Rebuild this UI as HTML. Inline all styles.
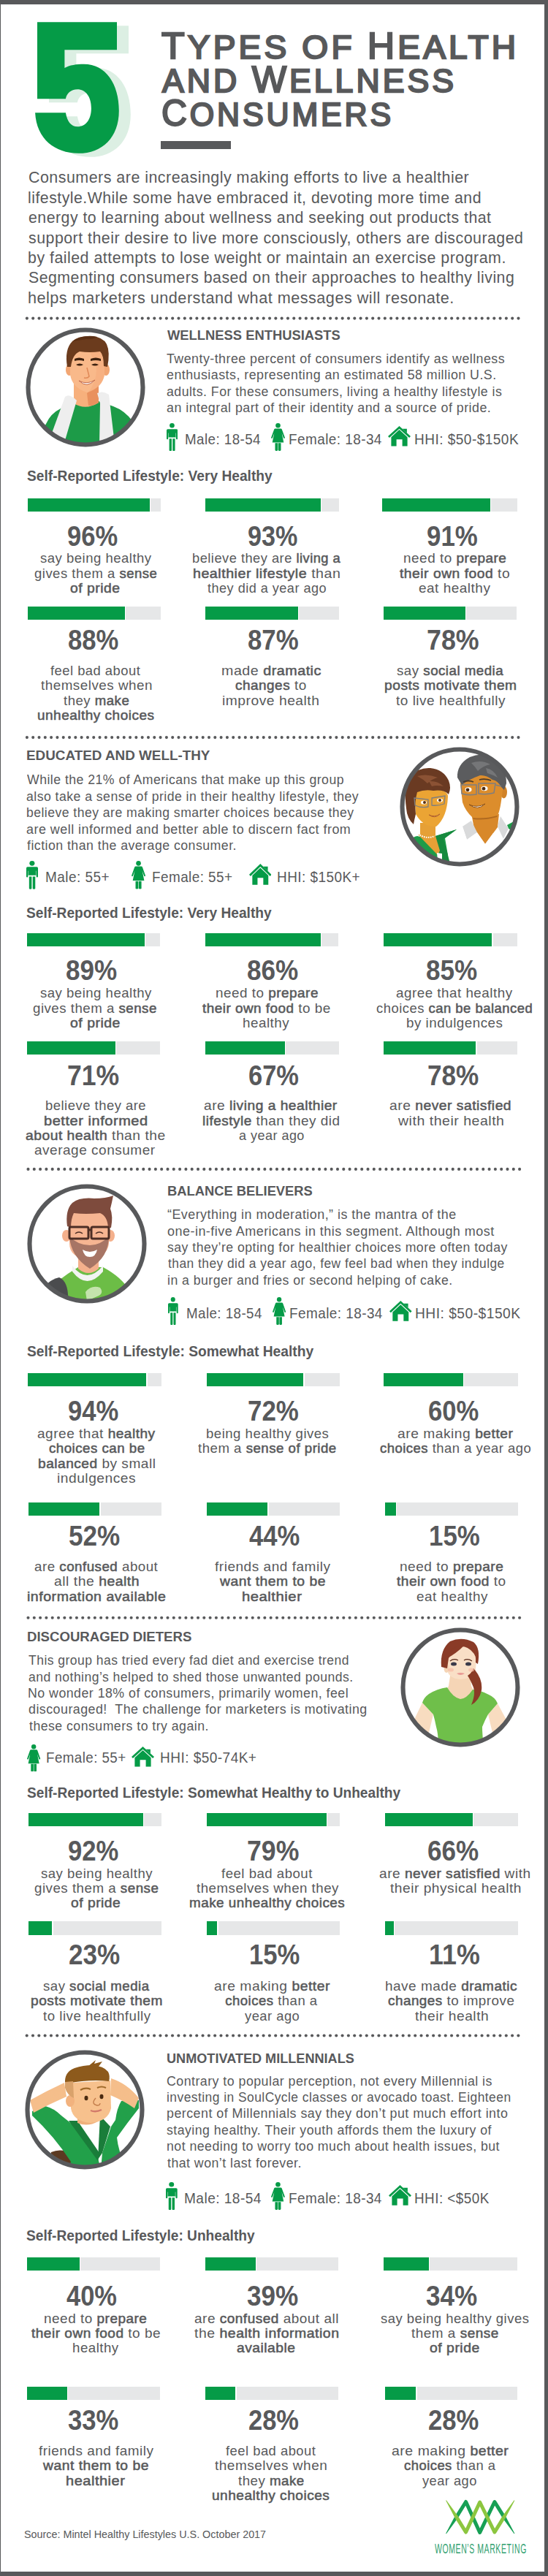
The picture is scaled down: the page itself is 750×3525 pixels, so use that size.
<!DOCTYPE html><html><head><meta charset="utf-8"><style>html,body{margin:0;padding:0;background:#fff}body{width:750px;height:3525px;position:relative;overflow:hidden;font-family:"Liberation Sans",sans-serif}b{font-weight:normal;-webkit-text-stroke:0.55px currentColor}</style></head><body>
<div style="position:absolute;left:0;top:0;width:750px;height:3525px;box-sizing:border-box;border-style:solid;border-color:#58595b;border-width:6px 5px 6px 1px"></div>
<svg style="position:absolute;left:0;top:0" width="220" height="230"><path d="M51 30.2 L160 30.2 L160 68.2 L88.4 68.2 L88.4 93 C95 89 105 87.7 114.7 87.7 C145 87.7 162.8 115 162.8 151.4 C162.8 188 140 209.8 107.4 209.8 C75 209.8 50 190 48.1 154.3 L89.9 154.3 C92 166 97 173.3 106 173.3 C118 173.3 124.9 163 124.9 148 C124.9 132 117 122.2 106 122.2 C97 122.2 91 128 89.9 135.3 L51 135.3 Z" fill="#dcefe3" transform="translate(16,5)"/><path d="M51 30.2 L160 30.2 L160 68.2 L88.4 68.2 L88.4 93 C95 89 105 87.7 114.7 87.7 C145 87.7 162.8 115 162.8 151.4 C162.8 188 140 209.8 107.4 209.8 C75 209.8 50 190 48.1 154.3 L89.9 154.3 C92 166 97 173.3 106 173.3 C118 173.3 124.9 163 124.9 148 C124.9 132 117 122.2 106 122.2 C97 122.2 91 128 89.9 135.3 L51 135.3 Z" fill="#059b47"/></svg>
<div style="position:absolute;left:220px;top:193px;width:96px;height:11px;background:#58595b"></div>
<svg style="position:absolute;left:0;top:0" width="750" height="3525" fill="#58595b"><circle cx="36.90" cy="435.60" r="2.05"/><circle cx="45.20" cy="435.60" r="2.05"/><circle cx="53.51" cy="435.60" r="2.05"/><circle cx="61.81" cy="435.60" r="2.05"/><circle cx="70.11" cy="435.60" r="2.05"/><circle cx="78.42" cy="435.60" r="2.05"/><circle cx="86.72" cy="435.60" r="2.05"/><circle cx="95.03" cy="435.60" r="2.05"/><circle cx="103.33" cy="435.60" r="2.05"/><circle cx="111.63" cy="435.60" r="2.05"/><circle cx="119.94" cy="435.60" r="2.05"/><circle cx="128.24" cy="435.60" r="2.05"/><circle cx="136.54" cy="435.60" r="2.05"/><circle cx="144.85" cy="435.60" r="2.05"/><circle cx="153.15" cy="435.60" r="2.05"/><circle cx="161.46" cy="435.60" r="2.05"/><circle cx="169.76" cy="435.60" r="2.05"/><circle cx="178.06" cy="435.60" r="2.05"/><circle cx="186.37" cy="435.60" r="2.05"/><circle cx="194.67" cy="435.60" r="2.05"/><circle cx="202.97" cy="435.60" r="2.05"/><circle cx="211.28" cy="435.60" r="2.05"/><circle cx="219.58" cy="435.60" r="2.05"/><circle cx="227.89" cy="435.60" r="2.05"/><circle cx="236.19" cy="435.60" r="2.05"/><circle cx="244.49" cy="435.60" r="2.05"/><circle cx="252.80" cy="435.60" r="2.05"/><circle cx="261.10" cy="435.60" r="2.05"/><circle cx="269.40" cy="435.60" r="2.05"/><circle cx="277.71" cy="435.60" r="2.05"/><circle cx="286.01" cy="435.60" r="2.05"/><circle cx="294.31" cy="435.60" r="2.05"/><circle cx="302.62" cy="435.60" r="2.05"/><circle cx="310.92" cy="435.60" r="2.05"/><circle cx="319.23" cy="435.60" r="2.05"/><circle cx="327.53" cy="435.60" r="2.05"/><circle cx="335.83" cy="435.60" r="2.05"/><circle cx="344.14" cy="435.60" r="2.05"/><circle cx="352.44" cy="435.60" r="2.05"/><circle cx="360.74" cy="435.60" r="2.05"/><circle cx="369.05" cy="435.60" r="2.05"/><circle cx="377.35" cy="435.60" r="2.05"/><circle cx="385.66" cy="435.60" r="2.05"/><circle cx="393.96" cy="435.60" r="2.05"/><circle cx="402.26" cy="435.60" r="2.05"/><circle cx="410.57" cy="435.60" r="2.05"/><circle cx="418.87" cy="435.60" r="2.05"/><circle cx="427.17" cy="435.60" r="2.05"/><circle cx="435.48" cy="435.60" r="2.05"/><circle cx="443.78" cy="435.60" r="2.05"/><circle cx="452.09" cy="435.60" r="2.05"/><circle cx="460.39" cy="435.60" r="2.05"/><circle cx="468.69" cy="435.60" r="2.05"/><circle cx="477.00" cy="435.60" r="2.05"/><circle cx="485.30" cy="435.60" r="2.05"/><circle cx="493.60" cy="435.60" r="2.05"/><circle cx="501.91" cy="435.60" r="2.05"/><circle cx="510.21" cy="435.60" r="2.05"/><circle cx="518.51" cy="435.60" r="2.05"/><circle cx="526.82" cy="435.60" r="2.05"/><circle cx="535.12" cy="435.60" r="2.05"/><circle cx="543.43" cy="435.60" r="2.05"/><circle cx="551.73" cy="435.60" r="2.05"/><circle cx="560.03" cy="435.60" r="2.05"/><circle cx="568.34" cy="435.60" r="2.05"/><circle cx="576.64" cy="435.60" r="2.05"/><circle cx="584.94" cy="435.60" r="2.05"/><circle cx="593.25" cy="435.60" r="2.05"/><circle cx="601.55" cy="435.60" r="2.05"/><circle cx="609.86" cy="435.60" r="2.05"/><circle cx="618.16" cy="435.60" r="2.05"/><circle cx="626.46" cy="435.60" r="2.05"/><circle cx="634.77" cy="435.60" r="2.05"/><circle cx="643.07" cy="435.60" r="2.05"/><circle cx="651.37" cy="435.60" r="2.05"/><circle cx="659.68" cy="435.60" r="2.05"/><circle cx="667.98" cy="435.60" r="2.05"/><circle cx="676.29" cy="435.60" r="2.05"/><circle cx="684.59" cy="435.60" r="2.05"/><circle cx="692.89" cy="435.60" r="2.05"/><circle cx="701.20" cy="435.60" r="2.05"/><circle cx="709.50" cy="435.60" r="2.05"/><circle cx="36.90" cy="1009.10" r="2.05"/><circle cx="45.20" cy="1009.10" r="2.05"/><circle cx="53.51" cy="1009.10" r="2.05"/><circle cx="61.81" cy="1009.10" r="2.05"/><circle cx="70.11" cy="1009.10" r="2.05"/><circle cx="78.42" cy="1009.10" r="2.05"/><circle cx="86.72" cy="1009.10" r="2.05"/><circle cx="95.03" cy="1009.10" r="2.05"/><circle cx="103.33" cy="1009.10" r="2.05"/><circle cx="111.63" cy="1009.10" r="2.05"/><circle cx="119.94" cy="1009.10" r="2.05"/><circle cx="128.24" cy="1009.10" r="2.05"/><circle cx="136.54" cy="1009.10" r="2.05"/><circle cx="144.85" cy="1009.10" r="2.05"/><circle cx="153.15" cy="1009.10" r="2.05"/><circle cx="161.46" cy="1009.10" r="2.05"/><circle cx="169.76" cy="1009.10" r="2.05"/><circle cx="178.06" cy="1009.10" r="2.05"/><circle cx="186.37" cy="1009.10" r="2.05"/><circle cx="194.67" cy="1009.10" r="2.05"/><circle cx="202.97" cy="1009.10" r="2.05"/><circle cx="211.28" cy="1009.10" r="2.05"/><circle cx="219.58" cy="1009.10" r="2.05"/><circle cx="227.89" cy="1009.10" r="2.05"/><circle cx="236.19" cy="1009.10" r="2.05"/><circle cx="244.49" cy="1009.10" r="2.05"/><circle cx="252.80" cy="1009.10" r="2.05"/><circle cx="261.10" cy="1009.10" r="2.05"/><circle cx="269.40" cy="1009.10" r="2.05"/><circle cx="277.71" cy="1009.10" r="2.05"/><circle cx="286.01" cy="1009.10" r="2.05"/><circle cx="294.31" cy="1009.10" r="2.05"/><circle cx="302.62" cy="1009.10" r="2.05"/><circle cx="310.92" cy="1009.10" r="2.05"/><circle cx="319.23" cy="1009.10" r="2.05"/><circle cx="327.53" cy="1009.10" r="2.05"/><circle cx="335.83" cy="1009.10" r="2.05"/><circle cx="344.14" cy="1009.10" r="2.05"/><circle cx="352.44" cy="1009.10" r="2.05"/><circle cx="360.74" cy="1009.10" r="2.05"/><circle cx="369.05" cy="1009.10" r="2.05"/><circle cx="377.35" cy="1009.10" r="2.05"/><circle cx="385.66" cy="1009.10" r="2.05"/><circle cx="393.96" cy="1009.10" r="2.05"/><circle cx="402.26" cy="1009.10" r="2.05"/><circle cx="410.57" cy="1009.10" r="2.05"/><circle cx="418.87" cy="1009.10" r="2.05"/><circle cx="427.17" cy="1009.10" r="2.05"/><circle cx="435.48" cy="1009.10" r="2.05"/><circle cx="443.78" cy="1009.10" r="2.05"/><circle cx="452.09" cy="1009.10" r="2.05"/><circle cx="460.39" cy="1009.10" r="2.05"/><circle cx="468.69" cy="1009.10" r="2.05"/><circle cx="477.00" cy="1009.10" r="2.05"/><circle cx="485.30" cy="1009.10" r="2.05"/><circle cx="493.60" cy="1009.10" r="2.05"/><circle cx="501.91" cy="1009.10" r="2.05"/><circle cx="510.21" cy="1009.10" r="2.05"/><circle cx="518.51" cy="1009.10" r="2.05"/><circle cx="526.82" cy="1009.10" r="2.05"/><circle cx="535.12" cy="1009.10" r="2.05"/><circle cx="543.43" cy="1009.10" r="2.05"/><circle cx="551.73" cy="1009.10" r="2.05"/><circle cx="560.03" cy="1009.10" r="2.05"/><circle cx="568.34" cy="1009.10" r="2.05"/><circle cx="576.64" cy="1009.10" r="2.05"/><circle cx="584.94" cy="1009.10" r="2.05"/><circle cx="593.25" cy="1009.10" r="2.05"/><circle cx="601.55" cy="1009.10" r="2.05"/><circle cx="609.86" cy="1009.10" r="2.05"/><circle cx="618.16" cy="1009.10" r="2.05"/><circle cx="626.46" cy="1009.10" r="2.05"/><circle cx="634.77" cy="1009.10" r="2.05"/><circle cx="643.07" cy="1009.10" r="2.05"/><circle cx="651.37" cy="1009.10" r="2.05"/><circle cx="659.68" cy="1009.10" r="2.05"/><circle cx="667.98" cy="1009.10" r="2.05"/><circle cx="676.29" cy="1009.10" r="2.05"/><circle cx="684.59" cy="1009.10" r="2.05"/><circle cx="692.89" cy="1009.10" r="2.05"/><circle cx="701.20" cy="1009.10" r="2.05"/><circle cx="709.50" cy="1009.10" r="2.05"/><circle cx="38.50" cy="1599.90" r="2.05"/><circle cx="46.80" cy="1599.90" r="2.05"/><circle cx="55.11" cy="1599.90" r="2.05"/><circle cx="63.41" cy="1599.90" r="2.05"/><circle cx="71.71" cy="1599.90" r="2.05"/><circle cx="80.02" cy="1599.90" r="2.05"/><circle cx="88.32" cy="1599.90" r="2.05"/><circle cx="96.63" cy="1599.90" r="2.05"/><circle cx="104.93" cy="1599.90" r="2.05"/><circle cx="113.23" cy="1599.90" r="2.05"/><circle cx="121.54" cy="1599.90" r="2.05"/><circle cx="129.84" cy="1599.90" r="2.05"/><circle cx="138.14" cy="1599.90" r="2.05"/><circle cx="146.45" cy="1599.90" r="2.05"/><circle cx="154.75" cy="1599.90" r="2.05"/><circle cx="163.06" cy="1599.90" r="2.05"/><circle cx="171.36" cy="1599.90" r="2.05"/><circle cx="179.66" cy="1599.90" r="2.05"/><circle cx="187.97" cy="1599.90" r="2.05"/><circle cx="196.27" cy="1599.90" r="2.05"/><circle cx="204.57" cy="1599.90" r="2.05"/><circle cx="212.88" cy="1599.90" r="2.05"/><circle cx="221.18" cy="1599.90" r="2.05"/><circle cx="229.49" cy="1599.90" r="2.05"/><circle cx="237.79" cy="1599.90" r="2.05"/><circle cx="246.09" cy="1599.90" r="2.05"/><circle cx="254.40" cy="1599.90" r="2.05"/><circle cx="262.70" cy="1599.90" r="2.05"/><circle cx="271.00" cy="1599.90" r="2.05"/><circle cx="279.31" cy="1599.90" r="2.05"/><circle cx="287.61" cy="1599.90" r="2.05"/><circle cx="295.91" cy="1599.90" r="2.05"/><circle cx="304.22" cy="1599.90" r="2.05"/><circle cx="312.52" cy="1599.90" r="2.05"/><circle cx="320.83" cy="1599.90" r="2.05"/><circle cx="329.13" cy="1599.90" r="2.05"/><circle cx="337.43" cy="1599.90" r="2.05"/><circle cx="345.74" cy="1599.90" r="2.05"/><circle cx="354.04" cy="1599.90" r="2.05"/><circle cx="362.34" cy="1599.90" r="2.05"/><circle cx="370.65" cy="1599.90" r="2.05"/><circle cx="378.95" cy="1599.90" r="2.05"/><circle cx="387.26" cy="1599.90" r="2.05"/><circle cx="395.56" cy="1599.90" r="2.05"/><circle cx="403.86" cy="1599.90" r="2.05"/><circle cx="412.17" cy="1599.90" r="2.05"/><circle cx="420.47" cy="1599.90" r="2.05"/><circle cx="428.77" cy="1599.90" r="2.05"/><circle cx="437.08" cy="1599.90" r="2.05"/><circle cx="445.38" cy="1599.90" r="2.05"/><circle cx="453.69" cy="1599.90" r="2.05"/><circle cx="461.99" cy="1599.90" r="2.05"/><circle cx="470.29" cy="1599.90" r="2.05"/><circle cx="478.60" cy="1599.90" r="2.05"/><circle cx="486.90" cy="1599.90" r="2.05"/><circle cx="495.20" cy="1599.90" r="2.05"/><circle cx="503.51" cy="1599.90" r="2.05"/><circle cx="511.81" cy="1599.90" r="2.05"/><circle cx="520.11" cy="1599.90" r="2.05"/><circle cx="528.42" cy="1599.90" r="2.05"/><circle cx="536.72" cy="1599.90" r="2.05"/><circle cx="545.03" cy="1599.90" r="2.05"/><circle cx="553.33" cy="1599.90" r="2.05"/><circle cx="561.63" cy="1599.90" r="2.05"/><circle cx="569.94" cy="1599.90" r="2.05"/><circle cx="578.24" cy="1599.90" r="2.05"/><circle cx="586.54" cy="1599.90" r="2.05"/><circle cx="594.85" cy="1599.90" r="2.05"/><circle cx="603.15" cy="1599.90" r="2.05"/><circle cx="611.46" cy="1599.90" r="2.05"/><circle cx="619.76" cy="1599.90" r="2.05"/><circle cx="628.06" cy="1599.90" r="2.05"/><circle cx="636.37" cy="1599.90" r="2.05"/><circle cx="644.67" cy="1599.90" r="2.05"/><circle cx="652.97" cy="1599.90" r="2.05"/><circle cx="661.28" cy="1599.90" r="2.05"/><circle cx="669.58" cy="1599.90" r="2.05"/><circle cx="677.89" cy="1599.90" r="2.05"/><circle cx="686.19" cy="1599.90" r="2.05"/><circle cx="694.49" cy="1599.90" r="2.05"/><circle cx="702.80" cy="1599.90" r="2.05"/><circle cx="711.10" cy="1599.90" r="2.05"/><circle cx="38.50" cy="2213.80" r="2.05"/><circle cx="46.80" cy="2213.80" r="2.05"/><circle cx="55.11" cy="2213.80" r="2.05"/><circle cx="63.41" cy="2213.80" r="2.05"/><circle cx="71.71" cy="2213.80" r="2.05"/><circle cx="80.02" cy="2213.80" r="2.05"/><circle cx="88.32" cy="2213.80" r="2.05"/><circle cx="96.63" cy="2213.80" r="2.05"/><circle cx="104.93" cy="2213.80" r="2.05"/><circle cx="113.23" cy="2213.80" r="2.05"/><circle cx="121.54" cy="2213.80" r="2.05"/><circle cx="129.84" cy="2213.80" r="2.05"/><circle cx="138.14" cy="2213.80" r="2.05"/><circle cx="146.45" cy="2213.80" r="2.05"/><circle cx="154.75" cy="2213.80" r="2.05"/><circle cx="163.06" cy="2213.80" r="2.05"/><circle cx="171.36" cy="2213.80" r="2.05"/><circle cx="179.66" cy="2213.80" r="2.05"/><circle cx="187.97" cy="2213.80" r="2.05"/><circle cx="196.27" cy="2213.80" r="2.05"/><circle cx="204.57" cy="2213.80" r="2.05"/><circle cx="212.88" cy="2213.80" r="2.05"/><circle cx="221.18" cy="2213.80" r="2.05"/><circle cx="229.49" cy="2213.80" r="2.05"/><circle cx="237.79" cy="2213.80" r="2.05"/><circle cx="246.09" cy="2213.80" r="2.05"/><circle cx="254.40" cy="2213.80" r="2.05"/><circle cx="262.70" cy="2213.80" r="2.05"/><circle cx="271.00" cy="2213.80" r="2.05"/><circle cx="279.31" cy="2213.80" r="2.05"/><circle cx="287.61" cy="2213.80" r="2.05"/><circle cx="295.91" cy="2213.80" r="2.05"/><circle cx="304.22" cy="2213.80" r="2.05"/><circle cx="312.52" cy="2213.80" r="2.05"/><circle cx="320.83" cy="2213.80" r="2.05"/><circle cx="329.13" cy="2213.80" r="2.05"/><circle cx="337.43" cy="2213.80" r="2.05"/><circle cx="345.74" cy="2213.80" r="2.05"/><circle cx="354.04" cy="2213.80" r="2.05"/><circle cx="362.34" cy="2213.80" r="2.05"/><circle cx="370.65" cy="2213.80" r="2.05"/><circle cx="378.95" cy="2213.80" r="2.05"/><circle cx="387.26" cy="2213.80" r="2.05"/><circle cx="395.56" cy="2213.80" r="2.05"/><circle cx="403.86" cy="2213.80" r="2.05"/><circle cx="412.17" cy="2213.80" r="2.05"/><circle cx="420.47" cy="2213.80" r="2.05"/><circle cx="428.77" cy="2213.80" r="2.05"/><circle cx="437.08" cy="2213.80" r="2.05"/><circle cx="445.38" cy="2213.80" r="2.05"/><circle cx="453.69" cy="2213.80" r="2.05"/><circle cx="461.99" cy="2213.80" r="2.05"/><circle cx="470.29" cy="2213.80" r="2.05"/><circle cx="478.60" cy="2213.80" r="2.05"/><circle cx="486.90" cy="2213.80" r="2.05"/><circle cx="495.20" cy="2213.80" r="2.05"/><circle cx="503.51" cy="2213.80" r="2.05"/><circle cx="511.81" cy="2213.80" r="2.05"/><circle cx="520.11" cy="2213.80" r="2.05"/><circle cx="528.42" cy="2213.80" r="2.05"/><circle cx="536.72" cy="2213.80" r="2.05"/><circle cx="545.03" cy="2213.80" r="2.05"/><circle cx="553.33" cy="2213.80" r="2.05"/><circle cx="561.63" cy="2213.80" r="2.05"/><circle cx="569.94" cy="2213.80" r="2.05"/><circle cx="578.24" cy="2213.80" r="2.05"/><circle cx="586.54" cy="2213.80" r="2.05"/><circle cx="594.85" cy="2213.80" r="2.05"/><circle cx="603.15" cy="2213.80" r="2.05"/><circle cx="611.46" cy="2213.80" r="2.05"/><circle cx="619.76" cy="2213.80" r="2.05"/><circle cx="628.06" cy="2213.80" r="2.05"/><circle cx="636.37" cy="2213.80" r="2.05"/><circle cx="644.67" cy="2213.80" r="2.05"/><circle cx="652.97" cy="2213.80" r="2.05"/><circle cx="661.28" cy="2213.80" r="2.05"/><circle cx="669.58" cy="2213.80" r="2.05"/><circle cx="677.89" cy="2213.80" r="2.05"/><circle cx="686.19" cy="2213.80" r="2.05"/><circle cx="694.49" cy="2213.80" r="2.05"/><circle cx="702.80" cy="2213.80" r="2.05"/><circle cx="711.10" cy="2213.80" r="2.05"/><circle cx="36.70" cy="2785.50" r="2.05"/><circle cx="45.00" cy="2785.50" r="2.05"/><circle cx="53.31" cy="2785.50" r="2.05"/><circle cx="61.61" cy="2785.50" r="2.05"/><circle cx="69.92" cy="2785.50" r="2.05"/><circle cx="78.22" cy="2785.50" r="2.05"/><circle cx="86.53" cy="2785.50" r="2.05"/><circle cx="94.83" cy="2785.50" r="2.05"/><circle cx="103.14" cy="2785.50" r="2.05"/><circle cx="111.44" cy="2785.50" r="2.05"/><circle cx="119.75" cy="2785.50" r="2.05"/><circle cx="128.05" cy="2785.50" r="2.05"/><circle cx="136.36" cy="2785.50" r="2.05"/><circle cx="144.66" cy="2785.50" r="2.05"/><circle cx="152.97" cy="2785.50" r="2.05"/><circle cx="161.27" cy="2785.50" r="2.05"/><circle cx="169.58" cy="2785.50" r="2.05"/><circle cx="177.88" cy="2785.50" r="2.05"/><circle cx="186.19" cy="2785.50" r="2.05"/><circle cx="194.49" cy="2785.50" r="2.05"/><circle cx="202.80" cy="2785.50" r="2.05"/><circle cx="211.10" cy="2785.50" r="2.05"/><circle cx="219.41" cy="2785.50" r="2.05"/><circle cx="227.71" cy="2785.50" r="2.05"/><circle cx="236.02" cy="2785.50" r="2.05"/><circle cx="244.32" cy="2785.50" r="2.05"/><circle cx="252.63" cy="2785.50" r="2.05"/><circle cx="260.93" cy="2785.50" r="2.05"/><circle cx="269.24" cy="2785.50" r="2.05"/><circle cx="277.54" cy="2785.50" r="2.05"/><circle cx="285.85" cy="2785.50" r="2.05"/><circle cx="294.15" cy="2785.50" r="2.05"/><circle cx="302.46" cy="2785.50" r="2.05"/><circle cx="310.76" cy="2785.50" r="2.05"/><circle cx="319.07" cy="2785.50" r="2.05"/><circle cx="327.37" cy="2785.50" r="2.05"/><circle cx="335.68" cy="2785.50" r="2.05"/><circle cx="343.98" cy="2785.50" r="2.05"/><circle cx="352.29" cy="2785.50" r="2.05"/><circle cx="360.59" cy="2785.50" r="2.05"/><circle cx="368.90" cy="2785.50" r="2.05"/><circle cx="377.20" cy="2785.50" r="2.05"/><circle cx="385.51" cy="2785.50" r="2.05"/><circle cx="393.81" cy="2785.50" r="2.05"/><circle cx="402.12" cy="2785.50" r="2.05"/><circle cx="410.42" cy="2785.50" r="2.05"/><circle cx="418.73" cy="2785.50" r="2.05"/><circle cx="427.03" cy="2785.50" r="2.05"/><circle cx="435.34" cy="2785.50" r="2.05"/><circle cx="443.64" cy="2785.50" r="2.05"/><circle cx="451.95" cy="2785.50" r="2.05"/><circle cx="460.25" cy="2785.50" r="2.05"/><circle cx="468.56" cy="2785.50" r="2.05"/><circle cx="476.86" cy="2785.50" r="2.05"/><circle cx="485.17" cy="2785.50" r="2.05"/><circle cx="493.47" cy="2785.50" r="2.05"/><circle cx="501.78" cy="2785.50" r="2.05"/><circle cx="510.08" cy="2785.50" r="2.05"/><circle cx="518.39" cy="2785.50" r="2.05"/><circle cx="526.69" cy="2785.50" r="2.05"/><circle cx="535.00" cy="2785.50" r="2.05"/><circle cx="543.30" cy="2785.50" r="2.05"/><circle cx="551.61" cy="2785.50" r="2.05"/><circle cx="559.91" cy="2785.50" r="2.05"/><circle cx="568.22" cy="2785.50" r="2.05"/><circle cx="576.52" cy="2785.50" r="2.05"/><circle cx="584.83" cy="2785.50" r="2.05"/><circle cx="593.13" cy="2785.50" r="2.05"/><circle cx="601.44" cy="2785.50" r="2.05"/><circle cx="609.74" cy="2785.50" r="2.05"/><circle cx="618.05" cy="2785.50" r="2.05"/><circle cx="626.35" cy="2785.50" r="2.05"/><circle cx="634.66" cy="2785.50" r="2.05"/><circle cx="642.96" cy="2785.50" r="2.05"/><circle cx="651.27" cy="2785.50" r="2.05"/><circle cx="659.57" cy="2785.50" r="2.05"/><circle cx="667.88" cy="2785.50" r="2.05"/><circle cx="676.18" cy="2785.50" r="2.05"/><circle cx="684.49" cy="2785.50" r="2.05"/><circle cx="692.79" cy="2785.50" r="2.05"/><circle cx="701.10" cy="2785.50" r="2.05"/><circle cx="709.40" cy="2785.50" r="2.05"/></svg>
<div style="fill:#059b47"><svg style="position:absolute;left:227.7px;top:579.0px" width="15.1" height="38.0" viewBox="0 0 15 38" preserveAspectRatio="none"><circle cx="7.4" cy="3.3" r="3.3"/><path d="M1.6 8.2 H13.4 Q15 8.2 15 9.8 V21.2 Q15 22.2 13.9 22.2 Q12.8 22.2 12.8 21.2 V19.6 H2.2 V21.2 Q2.2 22.2 1.1 22.2 Q0 22.2 0 21.2 V9.8 Q0 8.2 1.6 8.2 Z"/><path d="M3.6 21.3 H6.9 V37 Q6.9 38.2 5.25 38.2 Q3.6 38.2 3.6 37 Z"/><path d="M8.2 21.3 H11.5 V37 Q11.5 38.2 9.85 38.2 Q8.2 38.2 8.2 37 Z"/><path d="M2.5 13.5 V22 M12.5 13.5 V22" stroke="#dff3e6" stroke-width="0.5"/></svg></div>
<div style="fill:#059b47"><svg style="position:absolute;left:371.0px;top:579.0px" width="19.0" height="38.0" viewBox="0 0 19 38" preserveAspectRatio="none"><circle cx="9.5" cy="3.3" r="3.3"/><path d="M5.6 7.4 H13.4 Q14.3 7.4 14.8 8.4 L18.8 19.5 Q19.1 20.6 18.2 20.9 Q17.4 21.1 17 20.2 L14.6 13.5 L17.3 26.6 H1.7 L4.4 13.5 L2 20.2 Q1.6 21.1 0.8 20.9 Q-0.1 20.6 0.2 19.5 L4.2 8.4 Q4.7 7.4 5.6 7.4 Z"/><path d="M5.5 27.3 H9.2 V36.7 Q9.2 38 7.35 38 Q5.5 38 5.5 36.7 Z"/><path d="M9.8 27.3 H13.5 V36.7 Q13.5 38 11.65 38 Q9.8 38 9.8 36.7 Z"/></svg></div>
<div style="fill:#059b47"><svg style="position:absolute;left:531.0px;top:583.0px" width="31.0" height="27.6" viewBox="0 0 31 28" preserveAspectRatio="none"><path d="M15.5 0 L31 14.3 L29.1 16.3 L15.5 3.8 L1.9 16.3 L0 14.3 Z"/><path d="M19.6 3.7 H25.9 V9.6 L19.6 3.9 Z"/><path d="M15.5 5.2 L26.6 15.4 V27.8 H19.6 V18.6 H11.6 V27.8 H4.4 V15.4 Z"/></svg></div>
<div style="position:absolute;left:206.1px;top:681.7px;width:13.9px;height:18.3px;background:#e6e7e8"></div><div style="position:absolute;left:37.5px;top:681.7px;width:167.2px;height:18.3px;background:#059b47"></div>
<div style="position:absolute;left:440.1px;top:681.7px;width:23.9px;height:18.3px;background:#e6e7e8"></div><div style="position:absolute;left:281.2px;top:681.7px;width:157.5px;height:18.3px;background:#059b47"></div>
<div style="position:absolute;left:672.1px;top:681.7px;width:35.9px;height:18.3px;background:#e6e7e8"></div><div style="position:absolute;left:523.3px;top:681.7px;width:147.4px;height:18.3px;background:#059b47"></div>
<div style="position:absolute;left:171.9px;top:829.7px;width:47.9px;height:18.3px;background:#e6e7e8"></div><div style="position:absolute;left:38.0px;top:829.7px;width:132.5px;height:18.3px;background:#059b47"></div>
<div style="position:absolute;left:409.0px;top:829.7px;width:54.7px;height:18.3px;background:#e6e7e8"></div><div style="position:absolute;left:281.0px;top:829.7px;width:126.6px;height:18.3px;background:#059b47"></div>
<div style="position:absolute;left:638.1px;top:829.7px;width:68.9px;height:18.3px;background:#e6e7e8"></div><div style="position:absolute;left:525.4px;top:829.7px;width:111.3px;height:18.3px;background:#059b47"></div>
<div style="fill:#059b47"><svg style="position:absolute;left:36.0px;top:1178.0px" width="16.0" height="38.5" viewBox="0 0 15 38" preserveAspectRatio="none"><circle cx="7.4" cy="3.3" r="3.3"/><path d="M1.6 8.2 H13.4 Q15 8.2 15 9.8 V21.2 Q15 22.2 13.9 22.2 Q12.8 22.2 12.8 21.2 V19.6 H2.2 V21.2 Q2.2 22.2 1.1 22.2 Q0 22.2 0 21.2 V9.8 Q0 8.2 1.6 8.2 Z"/><path d="M3.6 21.3 H6.9 V37 Q6.9 38.2 5.25 38.2 Q3.6 38.2 3.6 37 Z"/><path d="M8.2 21.3 H11.5 V37 Q11.5 38.2 9.85 38.2 Q8.2 38.2 8.2 37 Z"/><path d="M2.5 13.5 V22 M12.5 13.5 V22" stroke="#dff3e6" stroke-width="0.5"/></svg></div>
<div style="fill:#059b47"><svg style="position:absolute;left:179.7px;top:1178.0px" width="19.1" height="38.5" viewBox="0 0 19 38" preserveAspectRatio="none"><circle cx="9.5" cy="3.3" r="3.3"/><path d="M5.6 7.4 H13.4 Q14.3 7.4 14.8 8.4 L18.8 19.5 Q19.1 20.6 18.2 20.9 Q17.4 21.1 17 20.2 L14.6 13.5 L17.3 26.6 H1.7 L4.4 13.5 L2 20.2 Q1.6 21.1 0.8 20.9 Q-0.1 20.6 0.2 19.5 L4.2 8.4 Q4.7 7.4 5.6 7.4 Z"/><path d="M5.5 27.3 H9.2 V36.7 Q9.2 38 7.35 38 Q5.5 38 5.5 36.7 Z"/><path d="M9.8 27.3 H13.5 V36.7 Q13.5 38 11.65 38 Q9.8 38 9.8 36.7 Z"/></svg></div>
<div style="fill:#059b47"><svg style="position:absolute;left:340.7px;top:1182.0px" width="30.6" height="29.0" viewBox="0 0 31 28" preserveAspectRatio="none"><path d="M15.5 0 L31 14.3 L29.1 16.3 L15.5 3.8 L1.9 16.3 L0 14.3 Z"/><path d="M19.6 3.7 H25.9 V9.6 L19.6 3.9 Z"/><path d="M15.5 5.2 L26.6 15.4 V27.8 H19.6 V18.6 H11.6 V27.8 H4.4 V15.4 Z"/></svg></div>
<div style="position:absolute;left:199.4px;top:1276.7px;width:20.0px;height:18.3px;background:#e6e7e8"></div><div style="position:absolute;left:37.3px;top:1276.7px;width:160.7px;height:18.3px;background:#059b47"></div>
<div style="position:absolute;left:440.2px;top:1276.7px;width:22.8px;height:18.3px;background:#e6e7e8"></div><div style="position:absolute;left:281.4px;top:1276.7px;width:157.4px;height:18.3px;background:#059b47"></div>
<div style="position:absolute;left:674.8px;top:1276.7px;width:32.8px;height:18.3px;background:#e6e7e8"></div><div style="position:absolute;left:525.1px;top:1276.7px;width:148.3px;height:18.3px;background:#059b47"></div>
<div style="position:absolute;left:159.2px;top:1424.7px;width:60.2px;height:18.3px;background:#e6e7e8"></div><div style="position:absolute;left:37.3px;top:1424.7px;width:120.5px;height:18.3px;background:#059b47"></div>
<div style="position:absolute;left:391.4px;top:1424.7px;width:72.6px;height:18.3px;background:#e6e7e8"></div><div style="position:absolute;left:281.4px;top:1424.7px;width:108.6px;height:18.3px;background:#059b47"></div>
<div style="position:absolute;left:652.9px;top:1424.7px;width:54.7px;height:18.3px;background:#e6e7e8"></div><div style="position:absolute;left:525.1px;top:1424.7px;width:126.4px;height:18.3px;background:#059b47"></div>
<div style="fill:#059b47"><svg style="position:absolute;left:230.0px;top:1775.0px" width="13.7" height="38.0" viewBox="0 0 15 38" preserveAspectRatio="none"><circle cx="7.4" cy="3.3" r="3.3"/><path d="M1.6 8.2 H13.4 Q15 8.2 15 9.8 V21.2 Q15 22.2 13.9 22.2 Q12.8 22.2 12.8 21.2 V19.6 H2.2 V21.2 Q2.2 22.2 1.1 22.2 Q0 22.2 0 21.2 V9.8 Q0 8.2 1.6 8.2 Z"/><path d="M3.6 21.3 H6.9 V37 Q6.9 38.2 5.25 38.2 Q3.6 38.2 3.6 37 Z"/><path d="M8.2 21.3 H11.5 V37 Q11.5 38.2 9.85 38.2 Q8.2 38.2 8.2 37 Z"/><path d="M2.5 13.5 V22 M12.5 13.5 V22" stroke="#dff3e6" stroke-width="0.5"/></svg></div>
<div style="fill:#059b47"><svg style="position:absolute;left:372.8px;top:1775.0px" width="18.2" height="38.0" viewBox="0 0 19 38" preserveAspectRatio="none"><circle cx="9.5" cy="3.3" r="3.3"/><path d="M5.6 7.4 H13.4 Q14.3 7.4 14.8 8.4 L18.8 19.5 Q19.1 20.6 18.2 20.9 Q17.4 21.1 17 20.2 L14.6 13.5 L17.3 26.6 H1.7 L4.4 13.5 L2 20.2 Q1.6 21.1 0.8 20.9 Q-0.1 20.6 0.2 19.5 L4.2 8.4 Q4.7 7.4 5.6 7.4 Z"/><path d="M5.5 27.3 H9.2 V36.7 Q9.2 38 7.35 38 Q5.5 38 5.5 36.7 Z"/><path d="M9.8 27.3 H13.5 V36.7 Q13.5 38 11.65 38 Q9.8 38 9.8 36.7 Z"/></svg></div>
<div style="fill:#059b47"><svg style="position:absolute;left:533.0px;top:1780.0px" width="30.6" height="28.0" viewBox="0 0 31 28" preserveAspectRatio="none"><path d="M15.5 0 L31 14.3 L29.1 16.3 L15.5 3.8 L1.9 16.3 L0 14.3 Z"/><path d="M19.6 3.7 H25.9 V9.6 L19.6 3.9 Z"/><path d="M15.5 5.2 L26.6 15.4 V27.8 H19.6 V18.6 H11.6 V27.8 H4.4 V15.4 Z"/></svg></div>
<div style="position:absolute;left:201.6px;top:1879.0px;width:19.1px;height:18.3px;background:#e6e7e8"></div><div style="position:absolute;left:38.2px;top:1879.0px;width:162.0px;height:18.3px;background:#059b47"></div>
<div style="position:absolute;left:416.5px;top:1879.0px;width:48.8px;height:18.3px;background:#e6e7e8"></div><div style="position:absolute;left:282.8px;top:1879.0px;width:132.3px;height:18.3px;background:#059b47"></div>
<div style="position:absolute;left:635.1px;top:1879.0px;width:73.9px;height:18.3px;background:#e6e7e8"></div><div style="position:absolute;left:525.1px;top:1879.0px;width:108.6px;height:18.3px;background:#059b47"></div>
<div style="position:absolute;left:137.7px;top:2055.7px;width:83.0px;height:18.3px;background:#e6e7e8"></div><div style="position:absolute;left:39.2px;top:2055.7px;width:97.1px;height:18.3px;background:#059b47"></div>
<div style="position:absolute;left:367.7px;top:2055.7px;width:97.6px;height:18.3px;background:#e6e7e8"></div><div style="position:absolute;left:282.8px;top:2055.7px;width:83.5px;height:18.3px;background:#059b47"></div>
<div style="position:absolute;left:543.4px;top:2055.7px;width:165.6px;height:18.3px;background:#e6e7e8"></div><div style="position:absolute;left:526.5px;top:2055.7px;width:15.5px;height:18.3px;background:#059b47"></div>
<div style="fill:#059b47"><svg style="position:absolute;left:37.3px;top:2387.0px" width="18.3" height="37.4" viewBox="0 0 19 38" preserveAspectRatio="none"><circle cx="9.5" cy="3.3" r="3.3"/><path d="M5.6 7.4 H13.4 Q14.3 7.4 14.8 8.4 L18.8 19.5 Q19.1 20.6 18.2 20.9 Q17.4 21.1 17 20.2 L14.6 13.5 L17.3 26.6 H1.7 L4.4 13.5 L2 20.2 Q1.6 21.1 0.8 20.9 Q-0.1 20.6 0.2 19.5 L4.2 8.4 Q4.7 7.4 5.6 7.4 Z"/><path d="M5.5 27.3 H9.2 V36.7 Q9.2 38 7.35 38 Q5.5 38 5.5 36.7 Z"/><path d="M9.8 27.3 H13.5 V36.7 Q13.5 38 11.65 38 Q9.8 38 9.8 36.7 Z"/></svg></div>
<div style="fill:#059b47"><svg style="position:absolute;left:179.7px;top:2390.0px" width="31.0" height="27.6" viewBox="0 0 31 28" preserveAspectRatio="none"><path d="M15.5 0 L31 14.3 L29.1 16.3 L15.5 3.8 L1.9 16.3 L0 14.3 Z"/><path d="M19.6 3.7 H25.9 V9.6 L19.6 3.9 Z"/><path d="M15.5 5.2 L26.6 15.4 V27.8 H19.6 V18.6 H11.6 V27.8 H4.4 V15.4 Z"/></svg></div>
<div style="position:absolute;left:197.0px;top:2481.2px;width:23.7px;height:18.3px;background:#e6e7e8"></div><div style="position:absolute;left:39.2px;top:2481.2px;width:156.4px;height:18.3px;background:#059b47"></div>
<div style="position:absolute;left:448.4px;top:2481.2px;width:16.9px;height:18.3px;background:#e6e7e8"></div><div style="position:absolute;left:282.8px;top:2481.2px;width:164.2px;height:18.3px;background:#059b47"></div>
<div style="position:absolute;left:648.3px;top:2481.2px;width:60.7px;height:18.3px;background:#e6e7e8"></div><div style="position:absolute;left:526.5px;top:2481.2px;width:120.4px;height:18.3px;background:#059b47"></div>
<div style="position:absolute;left:72.5px;top:2629.4px;width:148.2px;height:18.3px;background:#e6e7e8"></div><div style="position:absolute;left:39.2px;top:2629.4px;width:31.9px;height:18.3px;background:#059b47"></div>
<div style="position:absolute;left:298.8px;top:2629.4px;width:166.5px;height:18.3px;background:#e6e7e8"></div><div style="position:absolute;left:282.8px;top:2629.4px;width:14.6px;height:18.3px;background:#059b47"></div>
<div style="position:absolute;left:540.4px;top:2629.4px;width:168.6px;height:18.3px;background:#e6e7e8"></div><div style="position:absolute;left:526.5px;top:2629.4px;width:12.5px;height:18.3px;background:#059b47"></div>
<div style="fill:#059b47"><svg style="position:absolute;left:227.1px;top:2986.0px" width="15.7" height="38.0" viewBox="0 0 15 38" preserveAspectRatio="none"><circle cx="7.4" cy="3.3" r="3.3"/><path d="M1.6 8.2 H13.4 Q15 8.2 15 9.8 V21.2 Q15 22.2 13.9 22.2 Q12.8 22.2 12.8 21.2 V19.6 H2.2 V21.2 Q2.2 22.2 1.1 22.2 Q0 22.2 0 21.2 V9.8 Q0 8.2 1.6 8.2 Z"/><path d="M3.6 21.3 H6.9 V37 Q6.9 38.2 5.25 38.2 Q3.6 38.2 3.6 37 Z"/><path d="M8.2 21.3 H11.5 V37 Q11.5 38.2 9.85 38.2 Q8.2 38.2 8.2 37 Z"/><path d="M2.5 13.5 V22 M12.5 13.5 V22" stroke="#dff3e6" stroke-width="0.5"/></svg></div>
<div style="fill:#059b47"><svg style="position:absolute;left:370.9px;top:2986.0px" width="18.9" height="38.0" viewBox="0 0 19 38" preserveAspectRatio="none"><circle cx="9.5" cy="3.3" r="3.3"/><path d="M5.6 7.4 H13.4 Q14.3 7.4 14.8 8.4 L18.8 19.5 Q19.1 20.6 18.2 20.9 Q17.4 21.1 17 20.2 L14.6 13.5 L17.3 26.6 H1.7 L4.4 13.5 L2 20.2 Q1.6 21.1 0.8 20.9 Q-0.1 20.6 0.2 19.5 L4.2 8.4 Q4.7 7.4 5.6 7.4 Z"/><path d="M5.5 27.3 H9.2 V36.7 Q9.2 38 7.35 38 Q5.5 38 5.5 36.7 Z"/><path d="M9.8 27.3 H13.5 V36.7 Q13.5 38 11.65 38 Q9.8 38 9.8 36.7 Z"/></svg></div>
<div style="fill:#059b47"><svg style="position:absolute;left:531.6px;top:2989.7px" width="31.0" height="28.0" viewBox="0 0 31 28" preserveAspectRatio="none"><path d="M15.5 0 L31 14.3 L29.1 16.3 L15.5 3.8 L1.9 16.3 L0 14.3 Z"/><path d="M19.6 3.7 H25.9 V9.6 L19.6 3.9 Z"/><path d="M15.5 5.2 L26.6 15.4 V27.8 H19.6 V18.6 H11.6 V27.8 H4.4 V15.4 Z"/></svg></div>
<div style="position:absolute;left:110.4px;top:3089.0px;width:109.0px;height:18.3px;background:#e6e7e8"></div><div style="position:absolute;left:36.9px;top:3089.0px;width:72.1px;height:18.3px;background:#059b47"></div>
<div style="position:absolute;left:351.3px;top:3089.0px;width:111.7px;height:18.3px;background:#e6e7e8"></div><div style="position:absolute;left:281.4px;top:3089.0px;width:68.5px;height:18.3px;background:#059b47"></div>
<div style="position:absolute;left:588.1px;top:3089.0px;width:119.5px;height:18.3px;background:#e6e7e8"></div><div style="position:absolute;left:525.1px;top:3089.0px;width:61.6px;height:18.3px;background:#059b47"></div>
<div style="position:absolute;left:93.4px;top:3265.7px;width:126.0px;height:18.3px;background:#e6e7e8"></div><div style="position:absolute;left:37.3px;top:3265.7px;width:54.7px;height:18.3px;background:#059b47"></div>
<div style="position:absolute;left:323.9px;top:3265.7px;width:139.1px;height:18.3px;background:#e6e7e8"></div><div style="position:absolute;left:281.4px;top:3265.7px;width:41.1px;height:18.3px;background:#059b47"></div>
<div style="position:absolute;left:570.7px;top:3265.7px;width:136.9px;height:18.3px;background:#e6e7e8"></div><div style="position:absolute;left:527.4px;top:3265.7px;width:41.9px;height:18.3px;background:#059b47"></div>
<svg style="position:absolute;left:34.8px;top:447.5px" width="164" height="164" viewBox="0 0 164 164"><defs><clipPath id="cp0"><circle cx="82" cy="82" r="77"/></clipPath></defs><g clip-path="url(#cp0)">
<path d="M28 132 Q34 118 48 111 L66 103 L100 101 L120 108 Q136 114 146 128 L160 164 L10 164 Z" fill="#1d9b48"/>
<path d="M66 76 L66 104 Q82 114 100 103 L100 76 Z" fill="#f7b07c"/>
<path d="M84 90 L100 78 L100 103 Q92 108 86 107 Z" fill="#e9915e"/>
<path d="M54 95 Q60 90 70 100 L53 158 L34 150 Z" fill="#eeeeee"/>
<path d="M98 90 Q106 86 114 92 L122 160 L101 160 L102 104 Z" fill="#eeeeee"/>
<ellipse cx="60" cy="58" rx="5" ry="8" fill="#f2a673"/>
<ellipse cx="110" cy="58" rx="5" ry="8" fill="#f2a673"/>
<path d="M61 40 Q61 27 84 27 Q107 27 108 40 L108 64 Q106 82 84 89 Q63 82 61 64 Z" fill="#f9b98a"/>
<path d="M86 30 L100 30 Q108 40 108 60 L108 66 Q104 82 86 89 Q100 70 96 50 Z" fill="#f4a877" opacity="0.45"/>
<path d="M57 54 Q53 30 64 19 Q72 11 90 12 Q106 13 111 23 Q116 34 112 54 L107 53 Q107 38 102 33 Q88 35 74 33 Q64 37 62 54 Z" fill="#6b3b1d"/>
<path d="M64 19 Q80 9 98 13 Q90 17 84 16 Z" fill="#5a2f14"/>
<path d="M67 43 Q73 40 80 43 L80 46 Q73 44 67 46 Z" fill="#3e2210"/>
<path d="M89 43 Q96 40 103 43 L103 46 Q96 44 89 46 Z" fill="#3e2210"/>
<path d="M69 51 Q74 48 79 51 Q74 54 69 51 Z" fill="#3e2210"/>
<path d="M90 51 Q95 48 100 51 Q95 54 90 51 Z" fill="#3e2210"/>
<path d="M84 55 L87 67 Q85 70 80 69" fill="none" stroke="#e08a58" stroke-width="1.6"/>
<path d="M73 73 Q84 79 95 72 Q84 84 73 73 Z" fill="#ffffff" stroke="#c2694a" stroke-width="1"/>
</g><circle cx="82" cy="82" r="78.5" fill="none" stroke="#58595b" stroke-width="6.1"/></svg>
<svg style="position:absolute;left:546.5px;top:1022.0px" width="164" height="164" viewBox="0 0 164 164"><defs><clipPath id="cp1"><circle cx="82" cy="82" r="77"/></clipPath></defs><g clip-path="url(#cp1)">
<path d="M147 107 L160 100 L160 120 L150 114 Z" fill="#1d9b48"/>
<path d="M99 96 L136 92 L134 110 L117 133 L102 112 Z" fill="#d8882a"/>
<path d="M86 109 L98 101 L106 117 L92 127 Z" fill="#d9dadb"/>
<path d="M134 109 L138 95 L149 112 L142 126 Z" fill="#d9dadb"/>
<path d="M86 109 L92 127 L106 117 L117 133 L128 118 L142 126 L149 112 L160 118 L160 164 L80 164 L80 112 Z" fill="#ffffff"/>
<ellipse cx="142.5" cy="62" rx="4.5" ry="8.5" fill="#d08228"/>
<path d="M83 50 Q84 34 110 34 Q138 36 142 52 L139 74 Q137 88 134 94 Q116 99 100 97 Q90 88 86 76 Z" fill="#dc8d2c"/>
<path d="M100 97 Q116 99 134 94 L133 96 Q116 101 101 99 Z" fill="#b06a20"/>
<path d="M79 42 Q78 24 96 14 Q114 6 132 16 Q146 28 146 50 L143 59 L139 55 Q134 46 127 45 Q118 38 110 39 Q96 44 85 52 Z" fill="#5b5c5e"/>
<path d="M98 22 Q112 17 124 24 Q114 26 107 33 Q104 28 98 22 Z M118 29 Q129 31 134 42 Q127 38 120 36 Z" fill="#757678"/>
<path d="M84 52 L105 52 L105 65 Q94 67 85 64 Z M108 50 L131 50 L129 63 Q118 66 108 64 Z" fill="none" stroke="#7d7e80" stroke-width="1.5"/>
<path d="M131 52 L139 54" stroke="#7d7e80" stroke-width="1.3"/>
<ellipse cx="94" cy="58.5" rx="4.5" ry="3.2" fill="#ffffff"/>
<ellipse cx="116" cy="57" rx="4.5" ry="3.2" fill="#ffffff"/>
<circle cx="93" cy="58.8" r="2.4" fill="#4a2a10"/>
<circle cx="115" cy="57.2" r="2.4" fill="#4a2a10"/>
<path d="M87 48 Q94 45 101 48 M109 45 Q117 43 125 46" fill="none" stroke="#4a3a2a" stroke-width="1.8"/>
<path d="M95 79 Q106 84 117 78 Q107 88 95 79 Z" fill="#ffffff" stroke="#8a4e14" stroke-width="1"/>
<path d="M14 128 Q18 123 24 122 L36 125 L49 122 L78 113 L62 125 L66 148 L58 164 L10 164 Z" fill="#1d9b48"/>
<path d="M49 122 L78 113 L60 126 L66 148 L70 164 L58 164 Z" fill="#168a3e"/>
<path d="M25 120 L49 122 L55 142 L52 148 Z" fill="#e6a036"/>
<path d="M51 145 L58 146 L58 156 L52 156 Z" fill="#ffffff"/>
<path d="M28 104 L28 121 Q38 127 49 122 L49 104 Z" fill="#e6a036"/>
<path d="M25 119 Q36 127 48 122" fill="none" stroke="#ffffff" stroke-width="2" stroke-dasharray="1.6 1.4"/>
<path d="M20 64 Q20 56 42 56 Q66 58 66 68 Q65 96 50 109 Q32 110 22 92 Z" fill="#eba434"/>
<path d="M9 84 Q5 56 14 40 Q26 28 42 29 Q60 31 67 46 Q71 56 67 65 Q60 58 46 60 Q34 58 24 62 Q20 76 22 92 Q20 100 19 106 Q10 98 9 84 Z" fill="#6a3a22"/>
<path d="M24 40 Q38 36 52 42 Q44 44 38 50 Q32 44 24 40 Z M40 47 Q52 46 60 54 Q50 52 44 54 Z" fill="#8b5234"/>
<path d="M20 70 L39 72 L39 82 Q29 84 21 80 Z M44 70 L62 67 L61 78 Q52 81 44 80 Z" fill="none" stroke="#7d7e80" stroke-width="1.3"/>
<ellipse cx="33" cy="76" rx="4" ry="2.6" fill="#ffffff"/>
<ellipse cx="55" cy="73" rx="4" ry="2.6" fill="#ffffff"/>
<circle cx="34" cy="76" r="2" fill="#5a3010"/>
<circle cx="55" cy="73" r="2" fill="#5a3010"/>
<path d="M40 93 Q48 97 55 92 Q48 99 40 93 Z" fill="#f3c6a0" stroke="#b0602a" stroke-width="1"/>
</g><circle cx="82" cy="82" r="78.5" fill="none" stroke="#58595b" stroke-width="6.1"/></svg>
<svg style="position:absolute;left:36.7px;top:1620.0px" width="164" height="164" viewBox="0 0 164 164"><defs><clipPath id="cp2"><circle cx="82" cy="82" r="77"/></clipPath></defs><g clip-path="url(#cp2)">
<path d="M24 150 Q40 132 70 114 L104 114 Q130 128 140 146 L150 164 L14 164 Z" fill="#6cbd46"/>
<path d="M20 150 Q26 132 44 128 Q58 134 56 164 L16 164 Z" fill="#4b4c4e"/>
<path d="M80 148 Q88 138 100 142 Q106 150 96 154 L82 160 Z" fill="#c4e3ad"/>
<path d="M62 112 Q82 138 104 112 L104 120 Q82 146 62 120 Z" fill="#f2f4f2"/>
<path d="M70 96 L70 116 Q84 128 98 116 L98 96 Z" fill="#f4b08c"/>
<ellipse cx="54" cy="71" rx="6" ry="8" fill="#f4b08c"/>
<ellipse cx="114" cy="71" rx="6" ry="8" fill="#f4b08c"/>
<path d="M58 50 Q58 36 84 36 Q112 36 112 50 L112 82 Q110 100 84 104 Q58 100 58 82 Z" fill="#f6b592"/>
<path d="M58 72 Q60 100 86 116 Q112 100 112 72 Q100 84 86 84 Q70 84 58 72 Z" fill="#a77565"/>
<path d="M76 90 Q86 96 96 90 Q94 100 86 100 Q78 100 76 90 Z" fill="#ffffff"/>
<path d="M55 58 Q52 36 62 26 Q72 18 92 20 Q108 20 118 16 Q116 26 114 34 Q118 44 115 60 L111 60 Q110 44 100 40 Q80 42 64 40 Q60 48 60 60 Z" fill="#7e4b3d"/>
<rect x="58" y="59" width="26" height="16" rx="2" fill="none" stroke="#4c2e25" stroke-width="3"/>
<rect x="88" y="59" width="24" height="16" rx="2" fill="none" stroke="#4c2e25" stroke-width="3"/>
<path d="M84 63 L88 63" stroke="#4c2e25" stroke-width="3"/>
<path d="M66 68 Q71 64 76 68" fill="none" stroke="#4c2e25" stroke-width="1.6"/>
<path d="M94 68 Q99 64 104 68" fill="none" stroke="#4c2e25" stroke-width="1.6"/>
</g><circle cx="82" cy="82" r="78.5" fill="none" stroke="#58595b" stroke-width="6.1"/></svg>
<svg style="position:absolute;left:548.0px;top:2226.6px" width="164" height="164" viewBox="0 0 164 164"><defs><clipPath id="cp3"><circle cx="82" cy="82" r="77"/></clipPath></defs><g clip-path="url(#cp3)">
<path d="M69 60 L66 80 L63 86 Q72 102 82 102 Q92 102 100 86 L97 80 L95 60 Z" fill="#f5d5b6"/>
<path d="M30 103 L45 119 L39 144 L16 132 Z" fill="#f8dcc0"/>
<path d="M133 104 L120 119 L126 144 L148 132 Z" fill="#f8dcc0"/>
<path d="M64 82 Q50 84 39 91 Q32 96 30 103 L45 119 Q47 126 49 136 Q52 146 52 164 L114 164 Q112 146 112 136 Q116 126 120 119 L133 104 Q130 96 121 92 Q110 86 99 85 Q90 98 82 98 Q72 96 64 82 Z" fill="#6fbf4a"/>
<path d="M62 42 Q62 24 83 24 Q104 24 104 42 L103 58 Q100 70 82 71 Q66 70 64 58 Z" fill="#f9dfc6"/>
<ellipse cx="63" cy="56" rx="3.5" ry="6" fill="#f5d5b6"/>
<path d="M56 54 Q54 30 68 19 Q84 12 100 20 Q110 28 106 50 L103 48 Q104 38 99 34 Q92 26 84 26 Q74 30 66 42 L64 56 Z" fill="#8a3b27"/>
<path d="M64 42 Q76 36 88 24 Q78 24 70 30 Z" fill="#8a3b27"/>
<path d="M100 56 Q113 70 111 86 Q108 100 97 106 Q103 92 100 82 Q96 72 92 66 Q98 62 100 56 Z" fill="#8a3b27"/>
<path d="M68 46 Q73 42 79 45" fill="none" stroke="#5a2a1a" stroke-width="1.2"/>
<path d="M87 45 Q92 42 98 46" fill="none" stroke="#5a2a1a" stroke-width="1.2"/>
<ellipse cx="73" cy="50" rx="4" ry="2.5" fill="#3a3a4a"/>
<ellipse cx="93" cy="50" rx="4" ry="2.5" fill="#3a3a4a"/>
<ellipse cx="69" cy="58" rx="4" ry="2.5" fill="#f7b9a4" opacity="0.7"/>
<ellipse cx="97" cy="58" rx="4" ry="2.5" fill="#f7b9a4" opacity="0.7"/>
<path d="M77 63 Q82 61 88 63 Q82 67 77 63 Z" fill="#e99a94"/>
</g><circle cx="82" cy="82" r="78.5" fill="none" stroke="#58595b" stroke-width="6.1"/></svg>
<svg style="position:absolute;left:34.4px;top:2805.3px" width="164" height="164" viewBox="0 0 164 164"><defs><clipPath id="cp4"><circle cx="82" cy="82" r="77"/></clipPath></defs><g clip-path="url(#cp4)">
<path d="M36 140 Q50 134 64 142 L66 164 L34 164 Z" fill="#5b3a22"/>
<path d="M70 96 L104 92 L110 150 L72 150 Z" fill="#ffffff"/>
<path d="M10 84 L28 77 Q40 80 50 90 L70 106 L99 144 L104 164 L60 164 L63 153 Q40 118 10 90 Z" fill="#22a04a"/>
<path d="M156 69 L132 70 Q126 80 124 96 L118 105 L106 141 L104 164 L140 164 Q128 140 126 120 Q140 100 156 80 Z" fill="#22a04a"/>
<path d="M60 97 L72 97 L102 141 L100 152 Z" fill="#1a7d3a"/>
<path d="M103 90 L117 105 L106 141 L100 150 Z" fill="#1a7d3a"/>
<path d="M7 69 Q30 56 54 45 L57 64 Q34 74 12 86 Z" fill="#f5be8b"/>
<path d="M118 39 Q140 46 156 66 L150 80 Q136 70 117 62 Z" fill="#f5be8b"/>
<path d="M72 88 L72 100 Q86 106 100 98 L100 88 Z" fill="#f0b07c"/>
<path d="M62 45 L117 42 L118 80 Q114 98 90 100 Q66 98 63 80 Z" fill="#f7c18d"/>
<ellipse cx="62" cy="70" rx="6" ry="8" fill="#f2b27e"/>
<path d="M55 46 Q54 30 68 25 Q80 21 92 21 Q108 22 114 30 Q117 36 115 43 Q90 40 57 46 Z" fill="#8d5a1c"/>
<path d="M55 44 L66 43 L67 66 Q58 62 55 52 Z" fill="#d9a26b"/>
<path d="M86 23 L97 14 L95 19 L106 16 L100 24 Z" fill="#8d5a1c"/>
<path d="M76 55 Q83 51 90 54" fill="none" stroke="#a06a2a" stroke-width="2.2"/>
<path d="M99 52 Q105 49 111 52" fill="none" stroke="#a06a2a" stroke-width="2.2"/>
<ellipse cx="84" cy="66" rx="2.5" ry="3.2" fill="#4a2a10"/>
<ellipse cx="105" cy="64" rx="2.5" ry="3.2" fill="#4a2a10"/>
<path d="M97 66 Q90 74 99 76 Q103 76 103 73" fill="none" stroke="#c07a48" stroke-width="1.3"/>
<path d="M90 83 Q97 86 105 82" fill="none" stroke="#d27a6a" stroke-width="2.4"/>
</g><circle cx="82" cy="82" r="78.5" fill="none" stroke="#58595b" stroke-width="6.1"/></svg>
<svg style="position:absolute;left:0;top:0" width="750" height="3525"><path d="M625.40 3443.07 L637.60 3423.50 L656.70 3465.50 L676.90 3423.50 L689.10 3443.07" fill="none" stroke="#17a055" stroke-width="5.0" stroke-linejoin="round"/><path d="M610.84 3467.21 L610.16 3466.79 L623.28 3441.75 L627.53 3444.40 Z M704.34 3466.79 L703.66 3467.21 L686.97 3444.40 L691.22 3441.75 Z" fill="#17a055"/><path d="M625.40 3445.43 L637.60 3465.00 L656.70 3424.00 L676.90 3465.00 L689.10 3445.43" fill="none" stroke="#8cc63f" stroke-width="5.0" stroke-linejoin="round"/><path d="M610.16 3421.71 L610.84 3421.29 L627.53 3444.10 L623.28 3446.75 Z M703.66 3421.29 L704.34 3421.71 L691.22 3446.75 L686.97 3444.10 Z" fill="#8cc63f"/></svg>
<div style="position:absolute;white-space:nowrap;font-family:'Liberation Sans', sans-serif;font-size:44.5px;line-height:44.5px;color:#58595b;letter-spacing:4px;-webkit-text-stroke:2.3px #58595b;left:221.40px;top:41.00px;transform:scaleX(1.0363);transform-origin:0 0"><span style="font-size:50px">T</span>YPES OF <span style="font-size:50px">H</span>EALTH</div>
<div style="position:absolute;white-space:nowrap;font-family:'Liberation Sans', sans-serif;font-size:44.5px;line-height:44.5px;color:#58595b;letter-spacing:4px;-webkit-text-stroke:2.3px #58595b;left:222.40px;top:87.00px;transform:scaleX(1.0028);transform-origin:0 0">AND <span style="font-size:50px">W</span>ELLNESS</div>
<div style="position:absolute;white-space:nowrap;font-family:'Liberation Sans', sans-serif;font-size:44.5px;line-height:44.5px;color:#58595b;letter-spacing:4px;-webkit-text-stroke:2.3px #58595b;left:221.33px;top:133.00px;transform:scaleX(0.9659);transform-origin:0 0"><span style="font-size:50px">C</span>ONSUMERS</div>
<div style="position:absolute;white-space:nowrap;font-family:'Liberation Sans', sans-serif;font-size:22.5px;line-height:22.5px;color:#58595b;letter-spacing:0.5px;left:39.05px;top:232.00px;transform:scaleX(0.9531);transform-origin:0 0">Consumers are increasingly making efforts to live a healthier</div>
<div style="position:absolute;white-space:nowrap;font-family:'Liberation Sans', sans-serif;font-size:22.5px;line-height:22.5px;color:#58595b;letter-spacing:0.5px;left:38.11px;top:260.00px;transform:scaleX(0.9469);transform-origin:0 0">lifestyle.While some have embraced it, devoting more time and</div>
<div style="position:absolute;white-space:nowrap;font-family:'Liberation Sans', sans-serif;font-size:22.5px;line-height:22.5px;color:#58595b;letter-spacing:0.5px;left:39.05px;top:287.00px;transform:scaleX(0.9481);transform-origin:0 0">energy to learning about wellness and seeking out products that</div>
<div style="position:absolute;white-space:nowrap;font-family:'Liberation Sans', sans-serif;font-size:22.5px;line-height:22.5px;color:#58595b;letter-spacing:0.5px;left:39.05px;top:315.00px;transform:scaleX(0.9499);transform-origin:0 0">support their desire to live more consciously, others are discouraged</div>
<div style="position:absolute;white-space:nowrap;font-family:'Liberation Sans', sans-serif;font-size:22.5px;line-height:22.5px;color:#58595b;letter-spacing:0.5px;left:38.10px;top:342.00px;transform:scaleX(0.9513);transform-origin:0 0">by failed attempts to lose weight or maintain an exercise program.</div>
<div style="position:absolute;white-space:nowrap;font-family:'Liberation Sans', sans-serif;font-size:22.5px;line-height:22.5px;color:#58595b;letter-spacing:0.5px;left:39.05px;top:369.00px;transform:scaleX(0.9471);transform-origin:0 0">Segmenting consumers based on their approaches to healthy living</div>
<div style="position:absolute;white-space:nowrap;font-family:'Liberation Sans', sans-serif;font-size:22.5px;line-height:22.5px;color:#58595b;letter-spacing:0.5px;left:38.07px;top:397.00px;transform:scaleX(0.9626);transform-origin:0 0">helps marketers understand what messages will resonate.</div>
<div style="position:absolute;white-space:nowrap;font-family:'Liberation Sans', sans-serif;font-size:18.4px;line-height:18.4px;font-weight:bold;color:#58595b;letter-spacing:0px;left:228.80px;top:450.00px;transform:scaleX(0.9987);transform-origin:0 0">WELLNESS ENTHUSIASTS</div>
<div style="position:absolute;white-space:nowrap;font-family:'Liberation Sans', sans-serif;font-size:19.1px;line-height:19.1px;color:#58595b;letter-spacing:0.5px;left:227.57px;top:481.00px;transform:scaleX(0.9336);transform-origin:0 0">Twenty-three percent of consumers identify as wellness</div>
<div style="position:absolute;white-space:nowrap;font-family:'Liberation Sans', sans-serif;font-size:19.1px;line-height:19.1px;color:#58595b;letter-spacing:0.5px;left:227.57px;top:503.00px;transform:scaleX(0.9344);transform-origin:0 0">enthusiasts, representing an estimated 58 million U.S.</div>
<div style="position:absolute;white-space:nowrap;font-family:'Liberation Sans', sans-serif;font-size:19.1px;line-height:19.1px;color:#58595b;letter-spacing:0.5px;left:227.57px;top:526.00px;transform:scaleX(0.9280);transform-origin:0 0">adults. For these consumers, living a healthy lifestyle is</div>
<div style="position:absolute;white-space:nowrap;font-family:'Liberation Sans', sans-serif;font-size:19.1px;line-height:19.1px;color:#58595b;letter-spacing:0.5px;left:227.57px;top:548.00px;transform:scaleX(0.9345);transform-origin:0 0">an integral part of their identity and a source of pride.</div>
<div style="position:absolute;white-space:nowrap;font-family:'Liberation Sans', sans-serif;font-size:20.7px;line-height:20.7px;color:#58595b;letter-spacing:0.5px;left:252.69px;top:591.00px;transform:scaleX(0.9062);transform-origin:0 0">Male: 18-54</div>
<div style="position:absolute;white-space:nowrap;font-family:'Liberation Sans', sans-serif;font-size:20.7px;line-height:20.7px;color:#58595b;letter-spacing:0.5px;left:394.67px;top:591.00px;transform:scaleX(0.9139);transform-origin:0 0">Female: 18-34</div>
<div style="position:absolute;white-space:nowrap;font-family:'Liberation Sans', sans-serif;font-size:20.7px;line-height:20.7px;color:#58595b;letter-spacing:0.5px;left:567.16px;top:591.00px;transform:scaleX(0.9211);transform-origin:0 0">HHI: $50-$150K</div>
<div style="position:absolute;white-space:nowrap;font-family:'Liberation Sans', sans-serif;font-size:19.9px;line-height:19.9px;font-weight:bold;color:#58595b;letter-spacing:0px;left:36.54px;top:642.00px;transform:scaleX(0.9640);transform-origin:0 0">Self-Reported Lifestyle: Very Healthy</div>
<div style="position:absolute;white-space:nowrap;font-family:'Liberation Sans', sans-serif;font-size:38px;line-height:38px;font-weight:bold;color:#58595b;letter-spacing:0px;left:91.69px;top:715.00px;transform:scaleX(0.9095);transform-origin:0 0">96%</div>
<div style="position:absolute;white-space:nowrap;font-family:'Liberation Sans', sans-serif;font-size:18.5px;line-height:18.5px;color:#58595b;letter-spacing:0.5px;left:54.80px;top:755.00px;transform:scaleX(1.0007);transform-origin:0 0">say being healthy</div>
<div style="position:absolute;white-space:nowrap;font-family:'Liberation Sans', sans-serif;font-size:18.5px;line-height:18.5px;color:#58595b;letter-spacing:0.5px;left:47.20px;top:776.00px;transform:scaleX(0.9988);transform-origin:0 0">gives them a <b>sense</b></div>
<div style="position:absolute;white-space:nowrap;font-family:'Liberation Sans', sans-serif;font-size:18.5px;line-height:18.5px;color:#58595b;letter-spacing:0.5px;left:96.46px;top:796.00px;transform:scaleX(1.0422);transform-origin:0 0"><b>of pride</b></div>
<div style="position:absolute;white-space:nowrap;font-family:'Liberation Sans', sans-serif;font-size:38px;line-height:38px;font-weight:bold;color:#58595b;letter-spacing:0px;left:339.30px;top:715.00px;transform:scaleX(0.8986);transform-origin:0 0">93%</div>
<div style="position:absolute;white-space:nowrap;font-family:'Liberation Sans', sans-serif;font-size:18.5px;line-height:18.5px;color:#58595b;letter-spacing:0.5px;left:262.51px;top:755.00px;transform:scaleX(0.9873);transform-origin:0 0">believe they are <b>living a</b></div>
<div style="position:absolute;white-space:nowrap;font-family:'Liberation Sans', sans-serif;font-size:18.5px;line-height:18.5px;color:#58595b;letter-spacing:0.5px;left:264.24px;top:776.00px;transform:scaleX(1.0601);transform-origin:0 0"><b>healthier lifestyle</b> than</div>
<div style="position:absolute;white-space:nowrap;font-family:'Liberation Sans', sans-serif;font-size:18.5px;line-height:18.5px;color:#58595b;letter-spacing:0.5px;left:284.00px;top:796.00px;transform:scaleX(0.9771);transform-origin:0 0">they did a year ago</div>
<div style="position:absolute;white-space:nowrap;font-family:'Liberation Sans', sans-serif;font-size:38px;line-height:38px;font-weight:bold;color:#58595b;letter-spacing:0px;left:584.48px;top:715.00px;transform:scaleX(0.9176);transform-origin:0 0">91%</div>
<div style="position:absolute;white-space:nowrap;font-family:'Liberation Sans', sans-serif;font-size:18.5px;line-height:18.5px;color:#58595b;letter-spacing:0.5px;left:551.58px;top:755.00px;transform:scaleX(1.0235);transform-origin:0 0">need to <b>prepare</b></div>
<div style="position:absolute;white-space:nowrap;font-family:'Liberation Sans', sans-serif;font-size:18.5px;line-height:18.5px;color:#58595b;letter-spacing:0.5px;left:547.30px;top:776.00px;transform:scaleX(1.0403);transform-origin:0 0"><b>their own food</b> to</div>
<div style="position:absolute;white-space:nowrap;font-family:'Liberation Sans', sans-serif;font-size:18.5px;line-height:18.5px;color:#58595b;letter-spacing:0.5px;left:573.48px;top:796.00px;transform:scaleX(1.0245);transform-origin:0 0">eat healthy</div>
<div style="position:absolute;white-space:nowrap;font-family:'Liberation Sans', sans-serif;font-size:38px;line-height:38px;font-weight:bold;color:#58595b;letter-spacing:0px;left:92.99px;top:857.00px;transform:scaleX(0.9122);transform-origin:0 0">88%</div>
<div style="position:absolute;white-space:nowrap;font-family:'Liberation Sans', sans-serif;font-size:18.5px;line-height:18.5px;color:#58595b;letter-spacing:0.5px;left:69.40px;top:909.00px;transform:scaleX(0.9919);transform-origin:0 0">feel bad about</div>
<div style="position:absolute;white-space:nowrap;font-family:'Liberation Sans', sans-serif;font-size:18.5px;line-height:18.5px;color:#58595b;letter-spacing:0.5px;left:55.50px;top:929.00px;transform:scaleX(1.0168);transform-origin:0 0">themselves when</div>
<div style="position:absolute;white-space:nowrap;font-family:'Liberation Sans', sans-serif;font-size:18.5px;line-height:18.5px;color:#58595b;letter-spacing:0.5px;left:86.60px;top:950.00px;transform:scaleX(1.0045);transform-origin:0 0">they <b>make</b></div>
<div style="position:absolute;white-space:nowrap;font-family:'Liberation Sans', sans-serif;font-size:18.5px;line-height:18.5px;color:#58595b;letter-spacing:0.5px;left:50.88px;top:970.00px;transform:scaleX(1.0245);transform-origin:0 0"><b>unhealthy choices</b></div>
<div style="position:absolute;white-space:nowrap;font-family:'Liberation Sans', sans-serif;font-size:38px;line-height:38px;font-weight:bold;color:#58595b;letter-spacing:0px;left:339.28px;top:857.00px;transform:scaleX(0.9162);transform-origin:0 0">87%</div>
<div style="position:absolute;white-space:nowrap;font-family:'Liberation Sans', sans-serif;font-size:18.5px;line-height:18.5px;color:#58595b;letter-spacing:0.5px;left:302.74px;top:909.00px;transform:scaleX(1.0622);transform-origin:0 0">made <b>dramatic</b></div>
<div style="position:absolute;white-space:nowrap;font-family:'Liberation Sans', sans-serif;font-size:18.5px;line-height:18.5px;color:#58595b;letter-spacing:0.5px;left:322.48px;top:929.00px;transform:scaleX(1.0226);transform-origin:0 0"><b>changes</b> to</div>
<div style="position:absolute;white-space:nowrap;font-family:'Liberation Sans', sans-serif;font-size:18.5px;line-height:18.5px;color:#58595b;letter-spacing:0.5px;left:303.96px;top:950.00px;transform:scaleX(1.0397);transform-origin:0 0">improve health</div>
<div style="position:absolute;white-space:nowrap;font-family:'Liberation Sans', sans-serif;font-size:38px;line-height:38px;font-weight:bold;color:#58595b;letter-spacing:0px;left:583.52px;top:857.00px;transform:scaleX(0.9425);transform-origin:0 0">78%</div>
<div style="position:absolute;white-space:nowrap;font-family:'Liberation Sans', sans-serif;font-size:18.5px;line-height:18.5px;color:#58595b;letter-spacing:0.5px;left:542.79px;top:909.00px;transform:scaleX(1.0097);transform-origin:0 0">say <b>social media</b></div>
<div style="position:absolute;white-space:nowrap;font-family:'Liberation Sans', sans-serif;font-size:18.5px;line-height:18.5px;color:#58595b;letter-spacing:0.5px;left:526.16px;top:929.00px;transform:scaleX(1.0376);transform-origin:0 0"><b>posts motivate them</b></div>
<div style="position:absolute;white-space:nowrap;font-family:'Liberation Sans', sans-serif;font-size:18.5px;line-height:18.5px;color:#58595b;letter-spacing:0.5px;left:541.60px;top:950.00px;transform:scaleX(1.0260);transform-origin:0 0">to live healthfully</div>
<div style="position:absolute;white-space:nowrap;font-family:'Liberation Sans', sans-serif;font-size:18.4px;line-height:18.4px;font-weight:bold;color:#58595b;letter-spacing:0px;left:36.27px;top:1025.00px;transform:scaleX(1.0254);transform-origin:0 0">EDUCATED AND WELL-THY</div>
<div style="position:absolute;white-space:nowrap;font-family:'Liberation Sans', sans-serif;font-size:19.1px;line-height:19.1px;color:#58595b;letter-spacing:0.5px;left:37.30px;top:1057.00px;transform:scaleX(0.9261);transform-origin:0 0">While the 21% of Americans that make up this group</div>
<div style="position:absolute;white-space:nowrap;font-family:'Liberation Sans', sans-serif;font-size:19.1px;line-height:19.1px;color:#58595b;letter-spacing:0.5px;left:36.38px;top:1080.00px;transform:scaleX(0.9246);transform-origin:0 0">also take a sense of pride in their healthy lifestyle, they</div>
<div style="position:absolute;white-space:nowrap;font-family:'Liberation Sans', sans-serif;font-size:19.1px;line-height:19.1px;color:#58595b;letter-spacing:0.5px;left:36.38px;top:1102.00px;transform:scaleX(0.9219);transform-origin:0 0">believe they are making smarter choices because they</div>
<div style="position:absolute;white-space:nowrap;font-family:'Liberation Sans', sans-serif;font-size:19.1px;line-height:19.1px;color:#58595b;letter-spacing:0.5px;left:36.36px;top:1125.00px;transform:scaleX(0.9398);transform-origin:0 0">are well informed and better able to discern fact from</div>
<div style="position:absolute;white-space:nowrap;font-family:'Liberation Sans', sans-serif;font-size:19.1px;line-height:19.1px;color:#58595b;letter-spacing:0.5px;left:37.30px;top:1147.00px;transform:scaleX(0.9290);transform-origin:0 0">fiction than the average consumer.</div>
<div style="position:absolute;white-space:nowrap;font-family:'Liberation Sans', sans-serif;font-size:20.7px;line-height:20.7px;color:#58595b;letter-spacing:0.5px;left:62.17px;top:1190.00px;transform:scaleX(0.9174);transform-origin:0 0">Male: 55+</div>
<div style="position:absolute;white-space:nowrap;font-family:'Liberation Sans', sans-serif;font-size:20.7px;line-height:20.7px;color:#58595b;letter-spacing:0.5px;left:207.97px;top:1190.00px;transform:scaleX(0.9127);transform-origin:0 0">Female: 55+</div>
<div style="position:absolute;white-space:nowrap;font-family:'Liberation Sans', sans-serif;font-size:20.7px;line-height:20.7px;color:#58595b;letter-spacing:0.5px;left:379.07px;top:1190.00px;transform:scaleX(0.9165);transform-origin:0 0">HHI: $150K+</div>
<div style="position:absolute;white-space:nowrap;font-family:'Liberation Sans', sans-serif;font-size:19.9px;line-height:19.9px;font-weight:bold;color:#58595b;letter-spacing:0px;left:36.34px;top:1240.00px;transform:scaleX(0.9640);transform-origin:0 0">Self-Reported Lifestyle: Very Healthy</div>
<div style="position:absolute;white-space:nowrap;font-family:'Liberation Sans', sans-serif;font-size:38px;line-height:38px;font-weight:bold;color:#58595b;letter-spacing:0px;left:89.78px;top:1309.00px;transform:scaleX(0.9230);transform-origin:0 0">89%</div>
<div style="position:absolute;white-space:nowrap;font-family:'Liberation Sans', sans-serif;font-size:18.5px;line-height:18.5px;color:#58595b;letter-spacing:0.5px;left:54.60px;top:1350.00px;transform:scaleX(1.0026);transform-origin:0 0">say being healthy</div>
<div style="position:absolute;white-space:nowrap;font-family:'Liberation Sans', sans-serif;font-size:18.5px;line-height:18.5px;color:#58595b;letter-spacing:0.5px;left:45.49px;top:1371.00px;transform:scaleX(1.0084);transform-origin:0 0">gives them a <b>sense</b></div>
<div style="position:absolute;white-space:nowrap;font-family:'Liberation Sans', sans-serif;font-size:18.5px;line-height:18.5px;color:#58595b;letter-spacing:0.5px;left:95.55px;top:1391.00px;transform:scaleX(1.0484);transform-origin:0 0"><b>of pride</b></div>
<div style="position:absolute;white-space:nowrap;font-family:'Liberation Sans', sans-serif;font-size:38px;line-height:38px;font-weight:bold;color:#58595b;letter-spacing:0px;left:337.58px;top:1309.00px;transform:scaleX(0.9243);transform-origin:0 0">86%</div>
<div style="position:absolute;white-space:nowrap;font-family:'Liberation Sans', sans-serif;font-size:18.5px;line-height:18.5px;color:#58595b;letter-spacing:0.5px;left:294.58px;top:1350.00px;transform:scaleX(1.0199);transform-origin:0 0">need to <b>prepare</b></div>
<div style="position:absolute;white-space:nowrap;font-family:'Liberation Sans', sans-serif;font-size:18.5px;line-height:18.5px;color:#58595b;letter-spacing:0.5px;left:277.30px;top:1371.00px;transform:scaleX(1.0193);transform-origin:0 0"><b>their own food</b> to be</div>
<div style="position:absolute;white-space:nowrap;font-family:'Liberation Sans', sans-serif;font-size:18.5px;line-height:18.5px;color:#58595b;letter-spacing:0.5px;left:331.98px;top:1391.00px;transform:scaleX(1.0161);transform-origin:0 0">healthy</div>
<div style="position:absolute;white-space:nowrap;font-family:'Liberation Sans', sans-serif;font-size:38px;line-height:38px;font-weight:bold;color:#58595b;letter-spacing:0px;left:583.48px;top:1309.00px;transform:scaleX(0.9243);transform-origin:0 0">85%</div>
<div style="position:absolute;white-space:nowrap;font-family:'Liberation Sans', sans-serif;font-size:18.5px;line-height:18.5px;color:#58595b;letter-spacing:0.5px;left:542.28px;top:1350.00px;transform:scaleX(1.0155);transform-origin:0 0">agree that healthy</div>
<div style="position:absolute;white-space:nowrap;font-family:'Liberation Sans', sans-serif;font-size:18.5px;line-height:18.5px;color:#58595b;letter-spacing:0.5px;left:515.00px;top:1371.00px;transform:scaleX(0.9953);transform-origin:0 0">choices <b>can be balanced</b></div>
<div style="position:absolute;white-space:nowrap;font-family:'Liberation Sans', sans-serif;font-size:18.5px;line-height:18.5px;color:#58595b;letter-spacing:0.5px;left:555.98px;top:1391.00px;transform:scaleX(1.0156);transform-origin:0 0">by indulgences</div>
<div style="position:absolute;white-space:nowrap;font-family:'Liberation Sans', sans-serif;font-size:38px;line-height:38px;font-weight:bold;color:#58595b;letter-spacing:0px;left:92.03px;top:1453.00px;transform:scaleX(0.9370);transform-origin:0 0">71%</div>
<div style="position:absolute;white-space:nowrap;font-family:'Liberation Sans', sans-serif;font-size:18.5px;line-height:18.5px;color:#58595b;letter-spacing:0.5px;left:62.30px;top:1504.00px;transform:scaleX(0.9963);transform-origin:0 0">believe they are</div>
<div style="position:absolute;white-space:nowrap;font-family:'Liberation Sans', sans-serif;font-size:18.5px;line-height:18.5px;color:#58595b;letter-spacing:0.5px;left:59.92px;top:1525.00px;transform:scaleX(1.0815);transform-origin:0 0"><b>better informed</b></div>
<div style="position:absolute;white-space:nowrap;font-family:'Liberation Sans', sans-serif;font-size:18.5px;line-height:18.5px;color:#58595b;letter-spacing:0.5px;left:34.96px;top:1545.00px;transform:scaleX(1.0401);transform-origin:0 0"><b>about health</b> than the</div>
<div style="position:absolute;white-space:nowrap;font-family:'Liberation Sans', sans-serif;font-size:18.5px;line-height:18.5px;color:#58595b;letter-spacing:0.5px;left:47.27px;top:1565.00px;transform:scaleX(1.0270);transform-origin:0 0">average consumer</div>
<div style="position:absolute;white-space:nowrap;font-family:'Liberation Sans', sans-serif;font-size:38px;line-height:38px;font-weight:bold;color:#58595b;letter-spacing:0px;left:340.29px;top:1453.00px;transform:scaleX(0.9068);transform-origin:0 0">67%</div>
<div style="position:absolute;white-space:nowrap;font-family:'Liberation Sans', sans-serif;font-size:18.5px;line-height:18.5px;color:#58595b;letter-spacing:0.5px;left:279.47px;top:1504.00px;transform:scaleX(1.0349);transform-origin:0 0">are <b>living a healthier</b></div>
<div style="position:absolute;white-space:nowrap;font-family:'Liberation Sans', sans-serif;font-size:18.5px;line-height:18.5px;color:#58595b;letter-spacing:0.5px;left:277.18px;top:1525.00px;transform:scaleX(1.0231);transform-origin:0 0"><b>lifestyle</b> than they did</div>
<div style="position:absolute;white-space:nowrap;font-family:'Liberation Sans', sans-serif;font-size:18.5px;line-height:18.5px;color:#58595b;letter-spacing:0.5px;left:326.53px;top:1545.00px;transform:scaleX(0.9722);transform-origin:0 0">a year ago</div>
<div style="position:absolute;white-space:nowrap;font-family:'Liberation Sans', sans-serif;font-size:38px;line-height:38px;font-weight:bold;color:#58595b;letter-spacing:0px;left:584.85px;top:1453.00px;transform:scaleX(0.9247);transform-origin:0 0">78%</div>
<div style="position:absolute;white-space:nowrap;font-family:'Liberation Sans', sans-serif;font-size:18.5px;line-height:18.5px;color:#58595b;letter-spacing:0.5px;left:533.16px;top:1504.00px;transform:scaleX(1.0399);transform-origin:0 0">are <b>never satisfied</b></div>
<div style="position:absolute;white-space:nowrap;font-family:'Liberation Sans', sans-serif;font-size:18.5px;line-height:18.5px;color:#58595b;letter-spacing:0.5px;left:544.70px;top:1525.00px;transform:scaleX(1.0537);transform-origin:0 0">with their health</div>
<div style="position:absolute;white-space:nowrap;font-family:'Liberation Sans', sans-serif;font-size:18.4px;line-height:18.4px;font-weight:bold;color:#58595b;letter-spacing:0px;left:229.00px;top:1621.00px;transform:scaleX(0.9980);transform-origin:0 0">BALANCE BELIEVERS</div>
<div style="position:absolute;white-space:nowrap;font-family:'Liberation Sans', sans-serif;font-size:19.1px;line-height:19.1px;color:#58595b;letter-spacing:0.5px;left:229.06px;top:1652.00px;transform:scaleX(0.9374);transform-origin:0 0">&ldquo;Everything in moderation,&rdquo; is the mantra of the</div>
<div style="position:absolute;white-space:nowrap;font-family:'Liberation Sans', sans-serif;font-size:19.1px;line-height:19.1px;color:#58595b;letter-spacing:0.5px;left:229.06px;top:1675.00px;transform:scaleX(0.9427);transform-origin:0 0">one-in-five Americans in this segment. Although most</div>
<div style="position:absolute;white-space:nowrap;font-family:'Liberation Sans', sans-serif;font-size:19.1px;line-height:19.1px;color:#58595b;letter-spacing:0.5px;left:229.07px;top:1697.00px;transform:scaleX(0.9261);transform-origin:0 0">say they&rsquo;re opting for healthier choices more often today</div>
<div style="position:absolute;white-space:nowrap;font-family:'Liberation Sans', sans-serif;font-size:19.1px;line-height:19.1px;color:#58595b;letter-spacing:0.5px;left:230.00px;top:1719.00px;transform:scaleX(0.9111);transform-origin:0 0">than they did a year ago, few feel bad when they indulge</div>
<div style="position:absolute;white-space:nowrap;font-family:'Liberation Sans', sans-serif;font-size:19.1px;line-height:19.1px;color:#58595b;letter-spacing:0.5px;left:229.07px;top:1742.00px;transform:scaleX(0.9255);transform-origin:0 0">in a burger and fries or second helping of cake.</div>
<div style="position:absolute;white-space:nowrap;font-family:'Liberation Sans', sans-serif;font-size:20.7px;line-height:20.7px;color:#58595b;letter-spacing:0.5px;left:254.69px;top:1787.00px;transform:scaleX(0.9045);transform-origin:0 0">Male: 18-54</div>
<div style="position:absolute;white-space:nowrap;font-family:'Liberation Sans', sans-serif;font-size:20.7px;line-height:20.7px;color:#58595b;letter-spacing:0.5px;left:396.17px;top:1787.00px;transform:scaleX(0.9139);transform-origin:0 0">Female: 18-34</div>
<div style="position:absolute;white-space:nowrap;font-family:'Liberation Sans', sans-serif;font-size:20.7px;line-height:20.7px;color:#58595b;letter-spacing:0.5px;left:568.14px;top:1787.00px;transform:scaleX(0.9303);transform-origin:0 0">HHI: $50-$150K</div>
<div style="position:absolute;white-space:nowrap;font-family:'Liberation Sans', sans-serif;font-size:19.9px;line-height:19.9px;font-weight:bold;color:#58595b;letter-spacing:0px;left:37.23px;top:1840.00px;transform:scaleX(0.9668);transform-origin:0 0">Self-Reported Lifestyle: Somewhat Healthy</div>
<div style="position:absolute;white-space:nowrap;font-family:'Liberation Sans', sans-serif;font-size:38px;line-height:38px;font-weight:bold;color:#58595b;letter-spacing:0px;left:92.99px;top:1912.00px;transform:scaleX(0.9122);transform-origin:0 0">94%</div>
<div style="position:absolute;white-space:nowrap;font-family:'Liberation Sans', sans-serif;font-size:18.5px;line-height:18.5px;color:#58595b;letter-spacing:0.5px;left:50.97px;top:1953.00px;transform:scaleX(1.0288);transform-origin:0 0">agree that <b>healthy</b></div>
<div style="position:absolute;white-space:nowrap;font-family:'Liberation Sans', sans-serif;font-size:18.5px;line-height:18.5px;color:#58595b;letter-spacing:0.5px;left:66.89px;top:1973.00px;transform:scaleX(1.0086);transform-origin:0 0"><b>choices can be</b></div>
<div style="position:absolute;white-space:nowrap;font-family:'Liberation Sans', sans-serif;font-size:18.5px;line-height:18.5px;color:#58595b;letter-spacing:0.5px;left:51.77px;top:1994.00px;transform:scaleX(1.0312);transform-origin:0 0"><b>balanced</b> by small</div>
<div style="position:absolute;white-space:nowrap;font-family:'Liberation Sans', sans-serif;font-size:18.5px;line-height:18.5px;color:#58595b;letter-spacing:0.5px;left:78.26px;top:2014.00px;transform:scaleX(1.0373);transform-origin:0 0">indulgences</div>
<div style="position:absolute;white-space:nowrap;font-family:'Liberation Sans', sans-serif;font-size:38px;line-height:38px;font-weight:bold;color:#58595b;letter-spacing:0px;left:339.36px;top:1912.00px;transform:scaleX(0.9192);transform-origin:0 0">72%</div>
<div style="position:absolute;white-space:nowrap;font-family:'Liberation Sans', sans-serif;font-size:18.5px;line-height:18.5px;color:#58595b;letter-spacing:0.5px;left:281.80px;top:1953.00px;transform:scaleX(1.0030);transform-origin:0 0">being healthy gives</div>
<div style="position:absolute;white-space:nowrap;font-family:'Liberation Sans', sans-serif;font-size:18.5px;line-height:18.5px;color:#58595b;letter-spacing:0.5px;left:271.40px;top:1973.00px;transform:scaleX(1.0069);transform-origin:0 0">them a <b>sense of pride</b></div>
<div style="position:absolute;white-space:nowrap;font-family:'Liberation Sans', sans-serif;font-size:38px;line-height:38px;font-weight:bold;color:#58595b;letter-spacing:0px;left:585.79px;top:1912.00px;transform:scaleX(0.9122);transform-origin:0 0">60%</div>
<div style="position:absolute;white-space:nowrap;font-family:'Liberation Sans', sans-serif;font-size:18.5px;line-height:18.5px;color:#58595b;letter-spacing:0.5px;left:543.66px;top:1953.00px;transform:scaleX(1.0391);transform-origin:0 0">are making <b>better</b></div>
<div style="position:absolute;white-space:nowrap;font-family:'Liberation Sans', sans-serif;font-size:18.5px;line-height:18.5px;color:#58595b;letter-spacing:0.5px;left:519.50px;top:1973.00px;transform:scaleX(0.9966);transform-origin:0 0"><b>choices</b> than a year ago</div>
<div style="position:absolute;white-space:nowrap;font-family:'Liberation Sans', sans-serif;font-size:38px;line-height:38px;font-weight:bold;color:#58595b;letter-spacing:0px;left:94.38px;top:2083.00px;transform:scaleX(0.9243);transform-origin:0 0">52%</div>
<div style="position:absolute;white-space:nowrap;font-family:'Liberation Sans', sans-serif;font-size:18.5px;line-height:18.5px;color:#58595b;letter-spacing:0.5px;left:47.29px;top:2135.00px;transform:scaleX(1.0114);transform-origin:0 0">are <b>confused</b> about</div>
<div style="position:absolute;white-space:nowrap;font-family:'Liberation Sans', sans-serif;font-size:18.5px;line-height:18.5px;color:#58595b;letter-spacing:0.5px;left:73.65px;top:2155.00px;transform:scaleX(1.0455);transform-origin:0 0">all the <b>health</b></div>
<div style="position:absolute;white-space:nowrap;font-family:'Liberation Sans', sans-serif;font-size:18.5px;line-height:18.5px;color:#58595b;letter-spacing:0.5px;left:37.14px;top:2176.00px;transform:scaleX(1.0562);transform-origin:0 0"><b>information available</b></div>
<div style="position:absolute;white-space:nowrap;font-family:'Liberation Sans', sans-serif;font-size:38px;line-height:38px;font-weight:bold;color:#58595b;letter-spacing:0px;left:341.19px;top:2083.00px;transform:scaleX(0.9122);transform-origin:0 0">44%</div>
<div style="position:absolute;white-space:nowrap;font-family:'Liberation Sans', sans-serif;font-size:18.5px;line-height:18.5px;color:#58595b;letter-spacing:0.5px;left:294.20px;top:2135.00px;transform:scaleX(1.0288);transform-origin:0 0">friends and family</div>
<div style="position:absolute;white-space:nowrap;font-family:'Liberation Sans', sans-serif;font-size:18.5px;line-height:18.5px;color:#58595b;letter-spacing:0.5px;left:301.00px;top:2155.00px;transform:scaleX(1.0420);transform-origin:0 0"><b>want them to be</b></div>
<div style="position:absolute;white-space:nowrap;font-family:'Liberation Sans', sans-serif;font-size:18.5px;line-height:18.5px;color:#58595b;letter-spacing:0.5px;left:330.91px;top:2176.00px;transform:scaleX(1.0919);transform-origin:0 0"><b>healthier</b></div>
<div style="position:absolute;white-space:nowrap;font-family:'Liberation Sans', sans-serif;font-size:38px;line-height:38px;font-weight:bold;color:#58595b;letter-spacing:0px;left:587.16px;top:2083.00px;transform:scaleX(0.9178);transform-origin:0 0">15%</div>
<div style="position:absolute;white-space:nowrap;font-family:'Liberation Sans', sans-serif;font-size:18.5px;line-height:18.5px;color:#58595b;letter-spacing:0.5px;left:546.87px;top:2135.00px;transform:scaleX(1.0301);transform-origin:0 0">need to <b>prepare</b></div>
<div style="position:absolute;white-space:nowrap;font-family:'Liberation Sans', sans-serif;font-size:18.5px;line-height:18.5px;color:#58595b;letter-spacing:0.5px;left:543.30px;top:2155.00px;transform:scaleX(1.0299);transform-origin:0 0"><b>their own food</b> to</div>
<div style="position:absolute;white-space:nowrap;font-family:'Liberation Sans', sans-serif;font-size:18.5px;line-height:18.5px;color:#58595b;letter-spacing:0.5px;left:569.68px;top:2176.00px;transform:scaleX(1.0191);transform-origin:0 0">eat healthy</div>
<div style="position:absolute;white-space:nowrap;font-family:'Liberation Sans', sans-serif;font-size:18.4px;line-height:18.4px;font-weight:bold;color:#58595b;letter-spacing:0px;left:37.19px;top:2231.00px;transform:scaleX(1.0118);transform-origin:0 0">DISCOURAGED DIETERS</div>
<div style="position:absolute;white-space:nowrap;font-family:'Liberation Sans', sans-serif;font-size:19.1px;line-height:19.1px;color:#58595b;letter-spacing:0.5px;left:38.58px;top:2262.00px;transform:scaleX(0.9181);transform-origin:0 0">This group has tried every fad diet and exercise trend</div>
<div style="position:absolute;white-space:nowrap;font-family:'Liberation Sans', sans-serif;font-size:19.1px;line-height:19.1px;color:#58595b;letter-spacing:0.5px;left:38.58px;top:2285.00px;transform:scaleX(0.9208);transform-origin:0 0">and nothing&rsquo;s helped to shed those unwanted pounds.</div>
<div style="position:absolute;white-space:nowrap;font-family:'Liberation Sans', sans-serif;font-size:19.1px;line-height:19.1px;color:#58595b;letter-spacing:0.5px;left:37.64px;top:2307.00px;transform:scaleX(0.9318);transform-origin:0 0">No wonder 18% of consumers, primarily women, feel</div>
<div style="position:absolute;white-space:nowrap;font-family:'Liberation Sans', sans-serif;font-size:19.1px;line-height:19.1px;color:#58595b;letter-spacing:0.5px;left:38.57px;top:2329.00px;transform:scaleX(0.9345);transform-origin:0 0">discouraged!&nbsp; The challenge for marketers is motivating</div>
<div style="position:absolute;white-space:nowrap;font-family:'Liberation Sans', sans-serif;font-size:19.1px;line-height:19.1px;color:#58595b;letter-spacing:0.5px;left:39.50px;top:2352.00px;transform:scaleX(0.9278);transform-origin:0 0">these consumers to try again.</div>
<div style="position:absolute;white-space:nowrap;font-family:'Liberation Sans', sans-serif;font-size:20.7px;line-height:20.7px;color:#58595b;letter-spacing:0.5px;left:62.89px;top:2395.00px;transform:scaleX(0.9051);transform-origin:0 0">Female: 55+</div>
<div style="position:absolute;white-space:nowrap;font-family:'Liberation Sans', sans-serif;font-size:20.7px;line-height:20.7px;color:#58595b;letter-spacing:0.5px;left:218.86px;top:2395.00px;transform:scaleX(0.9200);transform-origin:0 0">HHI: $50-74K+</div>
<div style="position:absolute;white-space:nowrap;font-family:'Liberation Sans', sans-serif;font-size:19.9px;line-height:19.9px;font-weight:bold;color:#58595b;letter-spacing:0px;left:37.24px;top:2444.00px;transform:scaleX(0.9615);transform-origin:0 0">Self-Reported Lifestyle: Somewhat Healthy to Unhealthy</div>
<div style="position:absolute;white-space:nowrap;font-family:'Liberation Sans', sans-serif;font-size:38px;line-height:38px;font-weight:bold;color:#58595b;letter-spacing:0px;left:92.99px;top:2514.00px;transform:scaleX(0.9122);transform-origin:0 0">92%</div>
<div style="position:absolute;white-space:nowrap;font-family:'Liberation Sans', sans-serif;font-size:18.5px;line-height:18.5px;color:#58595b;letter-spacing:0.5px;left:55.50px;top:2555.00px;transform:scaleX(1.0033);transform-origin:0 0">say being healthy</div>
<div style="position:absolute;white-space:nowrap;font-family:'Liberation Sans', sans-serif;font-size:18.5px;line-height:18.5px;color:#58595b;letter-spacing:0.5px;left:47.29px;top:2575.00px;transform:scaleX(1.0114);transform-origin:0 0">gives them a <b>sense</b></div>
<div style="position:absolute;white-space:nowrap;font-family:'Liberation Sans', sans-serif;font-size:18.5px;line-height:18.5px;color:#58595b;letter-spacing:0.5px;left:97.46px;top:2595.00px;transform:scaleX(1.0391);transform-origin:0 0"><b>of pride</b></div>
<div style="position:absolute;white-space:nowrap;font-family:'Liberation Sans', sans-serif;font-size:38px;line-height:38px;font-weight:bold;color:#58595b;letter-spacing:0px;left:337.92px;top:2514.00px;transform:scaleX(0.9384);transform-origin:0 0">79%</div>
<div style="position:absolute;white-space:nowrap;font-family:'Liberation Sans', sans-serif;font-size:18.5px;line-height:18.5px;color:#58595b;letter-spacing:0.5px;left:303.30px;top:2555.00px;transform:scaleX(1.0048);transform-origin:0 0">feel bad about</div>
<div style="position:absolute;white-space:nowrap;font-family:'Liberation Sans', sans-serif;font-size:18.5px;line-height:18.5px;color:#58595b;letter-spacing:0.5px;left:269.10px;top:2575.00px;transform:scaleX(1.0099);transform-origin:0 0">themselves when they</div>
<div style="position:absolute;white-space:nowrap;font-family:'Liberation Sans', sans-serif;font-size:18.5px;line-height:18.5px;color:#58595b;letter-spacing:0.5px;left:259.38px;top:2595.00px;transform:scaleX(1.0178);transform-origin:0 0"><b>make unhealthy choices</b></div>
<div style="position:absolute;white-space:nowrap;font-family:'Liberation Sans', sans-serif;font-size:38px;line-height:38px;font-weight:bold;color:#58595b;letter-spacing:0px;left:584.88px;top:2514.00px;transform:scaleX(0.9243);transform-origin:0 0">66%</div>
<div style="position:absolute;white-space:nowrap;font-family:'Liberation Sans', sans-serif;font-size:18.5px;line-height:18.5px;color:#58595b;letter-spacing:0.5px;left:519.47px;top:2555.00px;transform:scaleX(1.0317);transform-origin:0 0">are <b>never satisfied</b> with</div>
<div style="position:absolute;white-space:nowrap;font-family:'Liberation Sans', sans-serif;font-size:18.5px;line-height:18.5px;color:#58595b;letter-spacing:0.5px;left:534.20px;top:2575.00px;transform:scaleX(1.0343);transform-origin:0 0">their physical health</div>
<div style="position:absolute;white-space:nowrap;font-family:'Liberation Sans', sans-serif;font-size:38px;line-height:38px;font-weight:bold;color:#58595b;letter-spacing:0px;left:94.38px;top:2656.00px;transform:scaleX(0.9243);transform-origin:0 0">23%</div>
<div style="position:absolute;white-space:nowrap;font-family:'Liberation Sans', sans-serif;font-size:18.5px;line-height:18.5px;color:#58595b;letter-spacing:0.5px;left:59.10px;top:2709.00px;transform:scaleX(1.0049);transform-origin:0 0">say <b>social media</b></div>
<div style="position:absolute;white-space:nowrap;font-family:'Liberation Sans', sans-serif;font-size:18.5px;line-height:18.5px;color:#58595b;letter-spacing:0.5px;left:41.77px;top:2729.00px;transform:scaleX(1.0335);transform-origin:0 0"><b>posts motivate them</b></div>
<div style="position:absolute;white-space:nowrap;font-family:'Liberation Sans', sans-serif;font-size:18.5px;line-height:18.5px;color:#58595b;letter-spacing:0.5px;left:58.80px;top:2750.00px;transform:scaleX(1.0089);transform-origin:0 0">to live healthfully</div>
<div style="position:absolute;white-space:nowrap;font-family:'Liberation Sans', sans-serif;font-size:38px;line-height:38px;font-weight:bold;color:#58595b;letter-spacing:0px;left:341.18px;top:2656.00px;transform:scaleX(0.9123);transform-origin:0 0">15%</div>
<div style="position:absolute;white-space:nowrap;font-family:'Liberation Sans', sans-serif;font-size:18.5px;line-height:18.5px;color:#58595b;letter-spacing:0.5px;left:293.16px;top:2709.00px;transform:scaleX(1.0424);transform-origin:0 0">are making <b>better</b></div>
<div style="position:absolute;white-space:nowrap;font-family:'Liberation Sans', sans-serif;font-size:18.5px;line-height:18.5px;color:#58595b;letter-spacing:0.5px;left:308.30px;top:2729.00px;transform:scaleX(1.0000);transform-origin:0 0"><b>choices</b> than a</div>
<div style="position:absolute;white-space:nowrap;font-family:'Liberation Sans', sans-serif;font-size:18.5px;line-height:18.5px;color:#58595b;letter-spacing:0.5px;left:335.30px;top:2750.00px;transform:scaleX(0.9907);transform-origin:0 0">year ago</div>
<div style="position:absolute;white-space:nowrap;font-family:'Liberation Sans', sans-serif;font-size:38px;line-height:38px;font-weight:bold;color:#58595b;letter-spacing:0px;left:587.11px;top:2656.00px;transform:scaleX(0.9437);transform-origin:0 0">11%</div>
<div style="position:absolute;white-space:nowrap;font-family:'Liberation Sans', sans-serif;font-size:18.5px;line-height:18.5px;color:#58595b;letter-spacing:0.5px;left:527.28px;top:2709.00px;transform:scaleX(1.0246);transform-origin:0 0">have made <b>dramatic</b></div>
<div style="position:absolute;white-space:nowrap;font-family:'Liberation Sans', sans-serif;font-size:18.5px;line-height:18.5px;color:#58595b;letter-spacing:0.5px;left:530.98px;top:2729.00px;transform:scaleX(1.0179);transform-origin:0 0"><b>changes</b> to improve</div>
<div style="position:absolute;white-space:nowrap;font-family:'Liberation Sans', sans-serif;font-size:18.5px;line-height:18.5px;color:#58595b;letter-spacing:0.5px;left:568.40px;top:2750.00px;transform:scaleX(1.0375);transform-origin:0 0">their health</div>
<div style="position:absolute;white-space:nowrap;font-family:'Liberation Sans', sans-serif;font-size:18.4px;line-height:18.4px;font-weight:bold;color:#58595b;letter-spacing:0px;left:227.52px;top:2808.00px;transform:scaleX(0.9846);transform-origin:0 0">UNMOTIVATED MILLENNIALS</div>
<div style="position:absolute;white-space:nowrap;font-family:'Liberation Sans', sans-serif;font-size:19.1px;line-height:19.1px;color:#58595b;letter-spacing:0.5px;left:227.57px;top:2838.00px;transform:scaleX(0.9317);transform-origin:0 0">Contrary to popular perception, not every Millennial is</div>
<div style="position:absolute;white-space:nowrap;font-family:'Liberation Sans', sans-serif;font-size:19.1px;line-height:19.1px;color:#58595b;letter-spacing:0.5px;left:227.59px;top:2860.00px;transform:scaleX(0.9126);transform-origin:0 0">investing in SoulCycle classes or avocado toast. Eighteen</div>
<div style="position:absolute;white-space:nowrap;font-family:'Liberation Sans', sans-serif;font-size:19.1px;line-height:19.1px;color:#58595b;letter-spacing:0.5px;left:227.57px;top:2882.00px;transform:scaleX(0.9349);transform-origin:0 0">percent of Millennials say they don&rsquo;t put much effort into</div>
<div style="position:absolute;white-space:nowrap;font-family:'Liberation Sans', sans-serif;font-size:19.1px;line-height:19.1px;color:#58595b;letter-spacing:0.5px;left:227.57px;top:2905.00px;transform:scaleX(0.9278);transform-origin:0 0">staying healthy. Their youth affords them the luxury of</div>
<div style="position:absolute;white-space:nowrap;font-family:'Liberation Sans', sans-serif;font-size:19.1px;line-height:19.1px;color:#58595b;letter-spacing:0.5px;left:227.57px;top:2927.00px;transform:scaleX(0.9290);transform-origin:0 0">not needing to worry too much about health issues, but</div>
<div style="position:absolute;white-space:nowrap;font-family:'Liberation Sans', sans-serif;font-size:19.1px;line-height:19.1px;color:#58595b;letter-spacing:0.5px;left:228.50px;top:2950.00px;transform:scaleX(0.9296);transform-origin:0 0">that won&rsquo;t last forever.</div>
<div style="position:absolute;white-space:nowrap;font-family:'Liberation Sans', sans-serif;font-size:20.7px;line-height:20.7px;color:#58595b;letter-spacing:0.5px;left:252.35px;top:2998.00px;transform:scaleX(0.9232);transform-origin:0 0">Male: 18-54</div>
<div style="position:absolute;white-space:nowrap;font-family:'Liberation Sans', sans-serif;font-size:20.7px;line-height:20.7px;color:#58595b;letter-spacing:0.5px;left:394.67px;top:2998.00px;transform:scaleX(0.9139);transform-origin:0 0">Female: 18-34</div>
<div style="position:absolute;white-space:nowrap;font-family:'Liberation Sans', sans-serif;font-size:20.7px;line-height:20.7px;color:#58595b;letter-spacing:0.5px;left:566.67px;top:2998.00px;transform:scaleX(0.9128);transform-origin:0 0">HHI: &lt;$50K</div>
<div style="position:absolute;white-space:nowrap;font-family:'Liberation Sans', sans-serif;font-size:19.9px;line-height:19.9px;font-weight:bold;color:#58595b;letter-spacing:0px;left:36.34px;top:3050.00px;transform:scaleX(0.9620);transform-origin:0 0">Self-Reported Lifestyle: Unhealthy</div>
<div style="position:absolute;white-space:nowrap;font-family:'Liberation Sans', sans-serif;font-size:38px;line-height:38px;font-weight:bold;color:#58595b;letter-spacing:0px;left:91.09px;top:3123.00px;transform:scaleX(0.9068);transform-origin:0 0">40%</div>
<div style="position:absolute;white-space:nowrap;font-family:'Liberation Sans', sans-serif;font-size:18.5px;line-height:18.5px;color:#58595b;letter-spacing:0.5px;left:59.98px;top:3164.00px;transform:scaleX(1.0235);transform-origin:0 0">need to <b>prepare</b></div>
<div style="position:absolute;white-space:nowrap;font-family:'Liberation Sans', sans-serif;font-size:18.5px;line-height:18.5px;color:#58595b;letter-spacing:0.5px;left:42.80px;top:3184.00px;transform:scaleX(1.0269);transform-origin:0 0"><b>their own food</b> to be</div>
<div style="position:absolute;white-space:nowrap;font-family:'Liberation Sans', sans-serif;font-size:18.5px;line-height:18.5px;color:#58595b;letter-spacing:0.5px;left:98.79px;top:3204.00px;transform:scaleX(1.0081);transform-origin:0 0">healthy</div>
<div style="position:absolute;white-space:nowrap;font-family:'Liberation Sans', sans-serif;font-size:38px;line-height:38px;font-weight:bold;color:#58595b;letter-spacing:0px;left:337.58px;top:3123.00px;transform:scaleX(0.9243);transform-origin:0 0">39%</div>
<div style="position:absolute;white-space:nowrap;font-family:'Liberation Sans', sans-serif;font-size:18.5px;line-height:18.5px;color:#58595b;letter-spacing:0.5px;left:265.77px;top:3164.00px;transform:scaleX(1.0253);transform-origin:0 0">are <b>confused</b> about all</div>
<div style="position:absolute;white-space:nowrap;font-family:'Liberation Sans', sans-serif;font-size:18.5px;line-height:18.5px;color:#58595b;letter-spacing:0.5px;left:265.50px;top:3184.00px;transform:scaleX(1.0505);transform-origin:0 0">the <b>health information</b></div>
<div style="position:absolute;white-space:nowrap;font-family:'Liberation Sans', sans-serif;font-size:18.5px;line-height:18.5px;color:#58595b;letter-spacing:0.5px;left:323.76px;top:3204.00px;transform:scaleX(1.0382);transform-origin:0 0"><b>available</b></div>
<div style="position:absolute;white-space:nowrap;font-family:'Liberation Sans', sans-serif;font-size:38px;line-height:38px;font-weight:bold;color:#58595b;letter-spacing:0px;left:583.48px;top:3123.00px;transform:scaleX(0.9243);transform-origin:0 0">34%</div>
<div style="position:absolute;white-space:nowrap;font-family:'Liberation Sans', sans-serif;font-size:18.5px;line-height:18.5px;color:#58595b;letter-spacing:0.5px;left:520.90px;top:3164.00px;transform:scaleX(0.9980);transform-origin:0 0">say being healthy gives</div>
<div style="position:absolute;white-space:nowrap;font-family:'Liberation Sans', sans-serif;font-size:18.5px;line-height:18.5px;color:#58595b;letter-spacing:0.5px;left:563.00px;top:3184.00px;transform:scaleX(1.0224);transform-origin:0 0">them a <b>sense</b></div>
<div style="position:absolute;white-space:nowrap;font-family:'Liberation Sans', sans-serif;font-size:18.5px;line-height:18.5px;color:#58595b;letter-spacing:0.5px;left:587.95px;top:3204.00px;transform:scaleX(1.0469);transform-origin:0 0"><b>of pride</b></div>
<div style="position:absolute;white-space:nowrap;font-family:'Liberation Sans', sans-serif;font-size:38px;line-height:38px;font-weight:bold;color:#58595b;letter-spacing:0px;left:92.99px;top:3293.00px;transform:scaleX(0.9122);transform-origin:0 0">33%</div>
<div style="position:absolute;white-space:nowrap;font-family:'Liberation Sans', sans-serif;font-size:18.5px;line-height:18.5px;color:#58595b;letter-spacing:0.5px;left:52.80px;top:3345.00px;transform:scaleX(1.0229);transform-origin:0 0">friends and family</div>
<div style="position:absolute;white-space:nowrap;font-family:'Liberation Sans', sans-serif;font-size:18.5px;line-height:18.5px;color:#58595b;letter-spacing:0.5px;left:58.80px;top:3365.00px;transform:scaleX(1.0413);transform-origin:0 0"><b>want them to be</b></div>
<div style="position:absolute;white-space:nowrap;font-family:'Liberation Sans', sans-serif;font-size:18.5px;line-height:18.5px;color:#58595b;letter-spacing:0.5px;left:89.62px;top:3386.00px;transform:scaleX(1.0784);transform-origin:0 0"><b>healthier</b></div>
<div style="position:absolute;white-space:nowrap;font-family:'Liberation Sans', sans-serif;font-size:38px;line-height:38px;font-weight:bold;color:#58595b;letter-spacing:0px;left:340.29px;top:3293.00px;transform:scaleX(0.9068);transform-origin:0 0">28%</div>
<div style="position:absolute;white-space:nowrap;font-family:'Liberation Sans', sans-serif;font-size:18.5px;line-height:18.5px;color:#58595b;letter-spacing:0.5px;left:309.30px;top:3345.00px;transform:scaleX(0.9927);transform-origin:0 0">feel bad about</div>
<div style="position:absolute;white-space:nowrap;font-family:'Liberation Sans', sans-serif;font-size:18.5px;line-height:18.5px;color:#58595b;letter-spacing:0.5px;left:294.20px;top:3365.00px;transform:scaleX(1.0255);transform-origin:0 0">themselves when</div>
<div style="position:absolute;white-space:nowrap;font-family:'Liberation Sans', sans-serif;font-size:18.5px;line-height:18.5px;color:#58595b;letter-spacing:0.5px;left:326.10px;top:3386.00px;transform:scaleX(1.0101);transform-origin:0 0">they <b>make</b></div>
<div style="position:absolute;white-space:nowrap;font-family:'Liberation Sans', sans-serif;font-size:18.5px;line-height:18.5px;color:#58595b;letter-spacing:0.5px;left:289.97px;top:3406.00px;transform:scaleX(1.0303);transform-origin:0 0"><b>unhealthy choices</b></div>
<div style="position:absolute;white-space:nowrap;font-family:'Liberation Sans', sans-serif;font-size:38px;line-height:38px;font-weight:bold;color:#58595b;letter-spacing:0px;left:585.79px;top:3293.00px;transform:scaleX(0.9122);transform-origin:0 0">28%</div>
<div style="position:absolute;white-space:nowrap;font-family:'Liberation Sans', sans-serif;font-size:18.5px;line-height:18.5px;color:#58595b;letter-spacing:0.5px;left:536.35px;top:3345.00px;transform:scaleX(1.0517);transform-origin:0 0">are making <b>better</b></div>
<div style="position:absolute;white-space:nowrap;font-family:'Liberation Sans', sans-serif;font-size:18.5px;line-height:18.5px;color:#58595b;letter-spacing:0.5px;left:552.81px;top:3365.00px;transform:scaleX(0.9936);transform-origin:0 0"><b>choices</b> than a</div>
<div style="position:absolute;white-space:nowrap;font-family:'Liberation Sans', sans-serif;font-size:18.5px;line-height:18.5px;color:#58595b;letter-spacing:0.5px;left:577.60px;top:3386.00px;transform:scaleX(0.9853);transform-origin:0 0">year ago</div>
<div style="position:absolute;white-space:nowrap;font-family:'Liberation Sans', sans-serif;font-size:15.4px;line-height:15.4px;color:#58595b;letter-spacing:0px;left:32.87px;top:3460.00px;transform:scaleX(0.9326);transform-origin:0 0">Source: Mintel Healthy Lifestyles U.S. October 2017</div>
<div style="position:absolute;white-space:nowrap;font-family:'Liberation Sans', sans-serif;font-size:18.5px;line-height:18.5px;color:#2f9f6f;letter-spacing:1px;left:594.83px;top:3479.00px;transform:scaleX(0.5683);transform-origin:0 0">WOMEN&rsquo;S MARKETING</div>
</body></html>
